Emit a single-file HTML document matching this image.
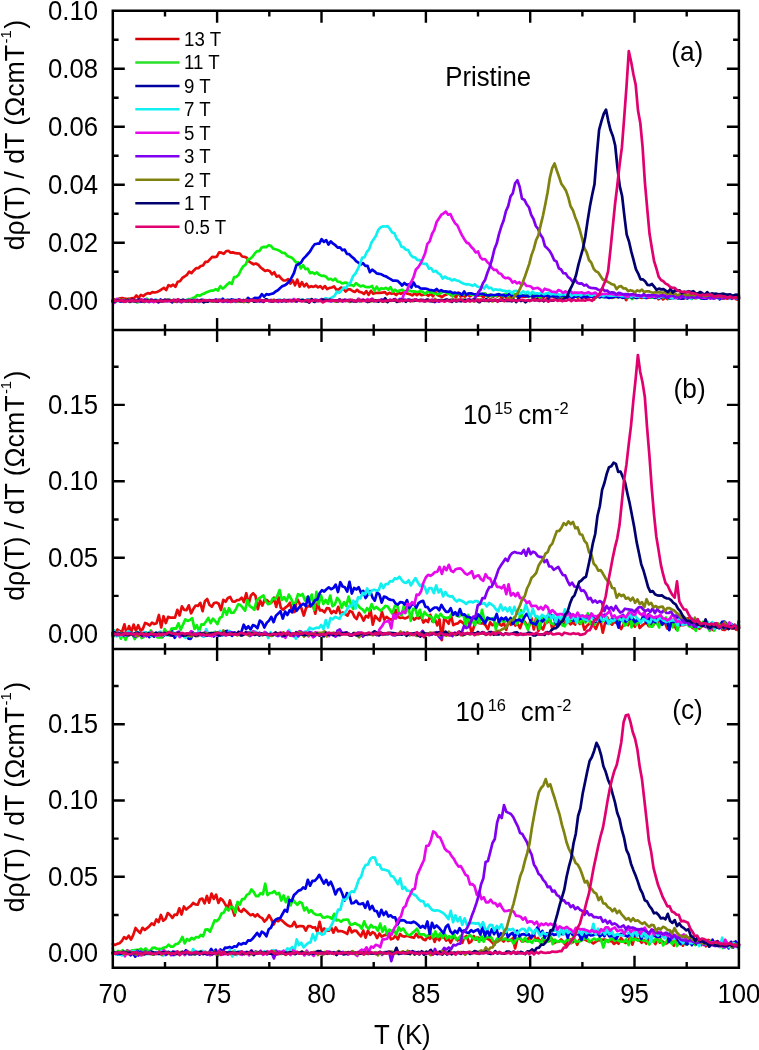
<!DOCTYPE html>
<html><head><meta charset="utf-8"><title>d&#961;/dT vs T</title>
<style>
html,body{margin:0;padding:0;background:#fff;}
body{width:759px;height:1050px;overflow:hidden;}
svg{display:block;font-family:"Liberation Sans",sans-serif;will-change:transform;}
</style></head><body>
<svg width="759" height="1050" viewBox="0 0 759 1050">
<rect width="759" height="1050" fill="#fff"/>

<g fill="none" stroke-width="2.70" stroke-linejoin="round" stroke-linecap="round">
<path stroke="#e60a0a" d="M112.8 301.8L113.3 298.9L115.6 299.9L117.9 299.0L120.2 298.4L122.5 298.1L124.8 298.7L127.1 299.1L129.4 298.7L131.7 298.2L134.0 298.4L136.3 295.5L138.6 297.8L140.9 294.9L143.2 296.1L145.5 294.2L147.8 293.1L150.1 293.7L152.4 292.1L154.7 292.5L157.0 292.0L159.3 290.9L161.6 289.3L163.9 287.8L166.2 290.0L168.5 285.1L170.8 286.3L173.1 284.6L175.4 286.9L177.7 281.7L180.0 281.2L182.3 277.9L184.6 276.5L186.9 274.9L189.2 271.6L191.5 273.1L193.8 270.4L196.1 268.2L198.4 268.2L200.7 266.0L203.0 265.5L205.3 261.9L207.6 261.8L209.9 259.3L212.2 256.8L214.5 257.1L216.8 256.6L219.1 252.4L221.4 252.7L223.7 253.8L226.0 251.3L228.3 250.8L230.6 252.6L232.9 252.3L235.2 253.2L237.5 253.3L239.8 253.5L242.1 256.5L244.4 256.8L246.7 257.8L249.0 261.4L251.3 263.0L253.6 264.3L255.9 263.5L258.2 264.7L260.5 267.4L262.8 269.1L265.1 271.0L267.4 270.2L269.7 271.0L272.0 274.3L274.3 272.3L276.6 276.7L278.9 275.6L281.2 278.5L283.5 280.5L285.8 280.4L288.1 279.2L290.4 283.6L292.7 280.3L295.0 285.3L297.3 279.6L299.6 286.7L301.9 282.1L304.2 286.3L306.5 283.7L308.8 287.4L311.1 286.2L313.4 286.9L315.7 285.7L318.0 287.4L320.3 286.2L322.6 288.7L324.9 286.1L327.2 289.1L329.5 287.9L331.8 287.5L334.1 286.4L336.4 289.7L338.7 289.5L341.0 287.5L343.3 288.5L345.6 291.5L347.9 289.4L350.2 289.4L352.5 291.0L354.8 292.0L357.1 289.8L359.4 291.9L361.7 292.3L364.0 294.0L366.3 291.1L368.6 294.9L370.9 290.8L373.2 293.8L375.5 293.0L377.8 292.9L380.1 292.8L382.4 292.7L384.7 292.0L387.0 294.4L389.3 292.8L391.6 293.8L393.9 293.3L396.2 295.0L398.5 292.8L400.8 293.8L403.1 292.5L405.4 293.2L407.7 293.6L410.0 294.3L412.3 295.4L414.6 293.3L416.9 295.1L419.2 293.2L421.5 295.2L423.8 294.7L426.1 294.2L428.4 295.8L430.7 293.8L433.0 296.3L435.3 291.7L437.6 295.3L439.9 295.9L442.2 296.9L444.5 295.2L446.8 294.4L449.1 293.3L451.4 295.4L453.7 294.6L456.0 297.5L458.3 292.7L460.6 296.6L462.9 295.6L465.2 296.7L467.5 294.1L469.8 296.4L472.1 294.9L474.4 294.9L476.7 296.0L479.0 295.4L481.3 295.3L483.6 297.6L485.9 294.0L488.2 296.8L490.5 294.7L492.8 296.9L495.1 295.3L497.4 296.5L499.7 294.7L502.0 298.3L504.3 295.3L506.6 298.1L508.9 296.0L511.2 296.8L513.5 296.2L515.8 295.2L518.1 297.6L520.4 296.7L522.7 296.4L525.0 296.9L527.3 296.5L529.6 295.0L531.9 296.7L534.2 298.1L536.5 294.0L538.8 298.8L541.1 295.4L543.4 297.9L545.7 294.2L548.0 298.0L550.3 296.5L552.6 296.9L554.9 297.2L557.2 297.1L559.5 295.9L561.8 298.7L564.1 294.0L566.4 296.4L568.7 295.1L571.0 297.4L573.3 297.0L575.6 296.2L577.9 297.7L580.2 296.6L582.5 297.8L584.8 297.1L587.1 297.5L589.4 297.3L591.7 295.4L594.0 299.5L596.3 295.1L598.6 296.9L600.9 296.7L603.2 295.8L605.5 296.4L607.8 296.5L610.1 297.2L612.4 297.9L614.7 296.8L617.0 296.8L619.3 296.1L621.6 297.4L623.9 295.7L626.2 300.1L628.5 295.2L630.8 296.7L633.1 296.0L635.4 297.8L637.7 296.7L640.0 297.7L642.3 297.8L644.6 297.1L646.9 297.9L649.2 297.6L651.5 295.7L653.8 297.8L656.1 296.7L658.4 299.2L660.7 296.4L663.0 299.4L665.3 297.5L667.6 299.1L669.9 298.1L672.2 297.6L674.5 296.9L676.8 297.3L679.1 297.1L681.4 298.6L683.7 298.7L686.0 296.8L688.3 297.3L690.6 297.9L692.9 296.2L695.2 298.1L697.5 296.7L699.8 297.5L702.1 298.2L704.4 297.1L706.7 298.6L709.0 296.4L711.3 297.3L713.6 298.2L715.9 296.9L718.2 298.1L720.5 296.8L722.8 298.6L725.1 297.9L727.4 298.6L729.7 297.1L732.0 298.8L734.3 297.0L736.6 299.5L738.9 298.7"/>
<path stroke="#0af00a" d="M112.8 301.2L114.5 300.0L116.8 301.2L119.1 299.5L121.4 301.0L123.7 300.8L126.0 300.6L128.3 299.6L130.6 301.8L132.9 300.6L135.2 301.4L137.5 302.4L139.8 300.3L142.1 301.6L144.4 301.9L146.7 298.7L149.0 300.4L151.3 299.8L153.6 301.7L155.9 300.1L158.2 301.8L160.5 300.3L162.8 301.2L165.1 300.7L167.4 299.9L169.7 300.2L172.0 300.9L174.3 300.9L176.6 300.8L178.9 300.5L181.2 300.3L183.5 300.2L185.8 300.8L188.1 299.1L190.4 299.3L192.7 298.1L195.0 297.3L197.3 295.0L199.6 295.8L201.9 294.3L204.2 293.6L206.5 292.3L208.8 291.4L211.1 290.5L213.4 290.6L215.7 289.2L218.0 290.5L220.3 286.1L222.6 288.6L224.9 287.0L227.2 284.4L229.5 282.4L231.8 284.0L234.1 277.1L236.4 276.8L238.7 274.7L241.0 269.7L243.3 266.3L245.6 264.7L247.9 259.4L250.2 258.7L252.5 256.7L254.8 253.4L257.1 251.1L259.4 251.1L261.7 247.5L264.0 246.9L266.3 247.1L268.6 245.2L270.9 245.9L273.2 248.6L275.5 249.2L277.8 250.0L280.1 251.1L282.4 253.0L284.7 252.9L287.0 255.7L289.3 256.8L291.6 257.6L293.9 259.8L296.2 262.5L298.5 262.3L300.8 268.4L303.1 265.1L305.4 269.1L307.7 268.7L310.0 273.2L312.3 272.4L314.6 273.8L316.9 272.5L319.2 274.8L321.5 275.8L323.8 275.7L326.1 276.7L328.4 279.5L330.7 278.8L333.0 280.3L335.3 278.6L337.6 281.6L339.9 281.9L342.2 283.5L344.5 282.7L346.8 282.8L349.1 285.1L351.4 284.9L353.7 286.0L356.0 283.1L358.3 285.0L360.6 286.4L362.9 285.5L365.2 286.8L367.5 287.1L369.8 287.1L372.1 286.0L374.4 291.0L376.7 286.6L379.0 290.3L381.3 288.2L383.6 288.9L385.9 287.8L388.2 289.6L390.5 287.1L392.8 291.6L395.1 289.7L397.4 291.7L399.7 290.5L402.0 289.7L404.3 291.1L406.6 291.2L408.9 290.1L411.2 291.4L413.5 291.4L415.8 291.7L418.1 291.8L420.4 291.2L422.7 291.8L425.0 294.0L427.3 291.6L429.6 292.3L431.9 292.1L434.2 293.7L436.5 294.1L438.8 294.0L441.1 293.0L443.4 291.3L445.7 292.2L448.0 293.9L450.3 293.1L452.6 296.4L454.9 292.8L457.2 293.9L459.5 294.2L461.8 294.3L464.1 294.0L466.4 294.8L468.7 293.1L471.0 294.7L473.3 294.4L475.6 295.6L477.9 294.5L480.2 294.7L482.5 294.1L484.8 293.3L487.1 296.1L489.4 294.7L491.7 296.3L494.0 295.4L496.3 295.9L498.6 293.9L500.9 295.1L503.2 296.2L505.5 293.7L507.8 296.4L510.1 294.1L512.4 295.8L514.7 294.0L517.0 296.1L519.3 294.6L521.6 295.6L523.9 295.7L526.2 294.6L528.5 297.1L530.8 295.4L533.1 294.4L535.4 296.5L537.7 295.4L540.0 297.7L542.3 295.6L544.6 294.8L546.9 295.2L549.2 296.3L551.5 296.4L553.8 294.8L556.1 296.5L558.4 296.0L560.7 297.0L563.0 296.2L565.3 295.5L567.6 294.7L569.9 295.5L572.2 297.4L574.5 294.9L576.8 296.9L579.1 296.3L581.4 297.4L583.7 295.2L586.0 295.9L588.3 296.1L590.6 295.6L592.9 297.3L595.2 298.1L597.5 296.2L599.8 294.9L602.1 297.1L604.4 297.0L606.7 295.6L609.0 296.7L611.3 295.8L613.6 297.5L615.9 296.3L618.2 297.3L620.5 296.4L622.8 297.8L625.1 296.4L627.4 298.2L629.7 295.7L632.0 299.1L634.3 296.3L636.6 296.1L638.9 297.5L641.2 296.0L643.5 296.1L645.8 297.7L648.1 295.4L650.4 297.3L652.7 297.6L655.0 297.0L657.3 296.0L659.6 295.6L661.9 296.6L664.2 297.8L666.5 295.7L668.8 298.7L671.1 297.5L673.4 297.0L675.7 296.2L678.0 298.5L680.3 296.2L682.6 296.3L684.9 296.4L687.2 298.1L689.5 296.9L691.8 298.9L694.1 297.0L696.4 298.2L698.7 296.9L701.0 298.7L703.3 295.9L705.6 298.2L707.9 297.8L710.2 297.0L712.5 296.2L714.8 297.2L717.1 297.1L719.4 295.5L721.7 297.8L724.0 297.4L726.3 297.4L728.6 297.9L730.9 296.8L733.2 298.0L735.5 297.2L737.8 297.5L738.9 297.0"/>
<path stroke="#0000e6" d="M112.8 301.3L114.6 300.2L116.9 300.7L119.2 301.0L121.5 300.9L123.8 300.5L126.1 301.2L128.4 300.1L130.7 301.4L133.0 300.0L135.3 301.6L137.6 301.1L139.9 299.7L142.2 301.2L144.5 301.8L146.8 299.9L149.1 301.8L151.4 299.4L153.7 301.5L156.0 300.0L158.3 302.1L160.6 299.5L162.9 301.4L165.2 300.3L167.5 300.0L169.8 300.0L172.1 302.4L174.4 300.5L176.7 300.4L179.0 300.6L181.3 301.0L183.6 300.0L185.9 300.5L188.2 300.2L190.5 301.5L192.8 300.6L195.1 300.4L197.4 299.9L199.7 301.4L202.0 300.0L204.3 300.2L206.6 301.3L208.9 300.1L211.2 300.4L213.5 300.9L215.8 300.1L218.1 300.0L220.4 300.6L222.7 298.7L225.0 300.9L227.3 299.9L229.6 300.2L231.9 299.4L234.2 300.1L236.5 301.7L238.8 299.5L241.1 300.7L243.4 300.0L245.7 300.8L248.0 297.9L250.3 299.7L252.6 299.4L254.9 297.8L257.2 298.0L259.5 297.7L261.8 294.2L264.1 296.7L266.4 294.2L268.7 294.6L271.0 294.0L273.3 293.4L275.6 291.5L277.9 290.3L280.2 288.1L282.5 286.1L284.8 285.3L287.1 283.6L289.4 281.1L291.7 277.4L294.0 273.0L296.3 265.4L298.6 264.0L300.9 262.9L303.2 258.9L305.5 256.6L307.8 254.0L310.1 251.3L312.4 247.3L314.7 244.3L317.0 243.7L319.3 243.7L321.6 239.1L323.9 241.9L326.2 240.1L328.5 244.5L330.8 241.4L333.1 243.7L335.4 245.2L337.7 247.6L340.0 247.4L342.3 250.2L344.6 249.5L346.9 253.8L349.2 254.2L351.5 256.6L353.8 258.3L356.1 261.2L358.4 262.7L360.7 264.5L363.0 263.2L365.3 265.8L367.6 265.9L369.9 272.2L372.2 269.7L374.5 271.3L376.8 273.4L379.1 273.8L381.4 274.3L383.7 275.7L386.0 276.4L388.3 277.9L390.6 279.1L392.9 280.6L395.2 280.7L397.5 280.8L399.8 282.9L402.1 285.5L404.4 283.0L406.7 284.9L409.0 284.2L411.3 287.6L413.6 282.4L415.9 286.5L418.2 286.5L420.5 288.5L422.8 288.7L425.1 288.5L427.4 289.0L429.7 290.1L432.0 290.2L434.3 290.7L436.6 289.0L438.9 291.4L441.2 290.1L443.5 291.5L445.8 291.4L448.1 291.8L450.4 291.6L452.7 293.1L455.0 292.7L457.3 293.2L459.6 293.1L461.9 295.0L464.2 291.4L466.5 294.9L468.8 293.4L471.1 293.4L473.4 294.0L475.7 294.3L478.0 294.7L480.3 293.8L482.6 293.9L484.9 294.7L487.2 295.3L489.5 295.4L491.8 294.8L494.1 295.3L496.4 294.7L498.7 294.3L501.0 295.2L503.3 294.8L505.6 296.1L507.9 294.9L510.2 293.5L512.5 296.8L514.8 295.9L517.1 295.4L519.4 296.7L521.7 295.4L524.0 295.8L526.3 295.9L528.6 296.4L530.9 295.1L533.2 296.6L535.5 295.8L537.8 295.7L540.1 295.4L542.4 296.0L544.7 296.1L547.0 295.5L549.3 296.8L551.6 295.5L553.9 296.5L556.2 296.5L558.5 296.5L560.8 296.2L563.1 295.5L565.4 296.1L567.7 297.6L570.0 294.1L572.3 298.7L574.6 296.6L576.9 296.7L579.2 295.1L581.5 297.7L583.8 295.7L586.1 297.7L588.4 296.1L590.7 296.7L593.0 296.5L595.3 296.8L597.6 295.8L599.9 297.4L602.2 296.1L604.5 297.2L606.8 297.1L609.1 297.9L611.4 297.1L613.7 297.1L616.0 296.1L618.3 297.3L620.6 296.7L622.9 297.8L625.2 297.1L627.5 296.8L629.8 297.0L632.1 297.5L634.4 296.7L636.7 298.0L639.0 296.5L641.3 296.3L643.6 297.4L645.9 297.8L648.2 296.2L650.5 297.2L652.8 296.3L655.1 297.9L657.4 296.2L659.7 298.4L662.0 296.0L664.3 297.1L666.6 296.5L668.9 297.9L671.2 298.1L673.5 298.1L675.8 297.6L678.1 298.2L680.4 298.4L682.7 298.4L685.0 297.8L687.3 298.4L689.6 297.4L691.9 298.0L694.2 297.3L696.5 297.5L698.8 296.5L701.1 298.2L703.4 298.6L705.7 298.7L708.0 297.7L710.3 298.3L712.6 298.0L714.9 298.1L717.2 296.3L719.5 299.3L721.8 297.6L724.1 297.9L726.4 297.4L728.7 297.8L731.0 298.4L733.3 297.7L735.6 297.4L737.9 299.3L738.9 298.2"/>
<path stroke="#10f0f0" d="M112.8 300.6L113.8 300.6L116.1 301.6L118.4 299.8L120.7 301.2L123.0 299.9L125.3 301.7L127.6 300.8L129.9 300.9L132.2 300.6L134.5 301.3L136.8 300.4L139.1 301.4L141.4 300.0L143.7 300.5L146.0 299.4L148.3 301.9L150.6 300.6L152.9 301.5L155.2 299.4L157.5 301.1L159.8 301.1L162.1 301.3L164.4 300.5L166.7 300.3L169.0 300.3L171.3 301.7L173.6 299.7L175.9 301.5L178.2 299.9L180.5 302.0L182.8 301.3L185.1 301.0L187.4 299.6L189.7 301.8L192.0 299.7L194.3 300.8L196.6 300.0L198.9 302.3L201.2 299.9L203.5 300.9L205.8 299.9L208.1 301.0L210.4 300.4L212.7 300.1L215.0 300.2L217.3 300.9L219.6 299.6L221.9 300.3L224.2 301.1L226.5 299.9L228.8 301.5L231.1 300.5L233.4 299.8L235.7 302.0L238.0 299.9L240.3 300.7L242.6 300.7L244.9 300.3L247.2 301.4L249.5 300.7L251.8 300.0L254.1 301.6L256.4 300.9L258.7 300.9L261.0 300.8L263.3 301.1L265.6 300.1L267.9 299.7L270.2 301.3L272.5 300.4L274.8 300.4L277.1 300.8L279.4 299.4L281.7 301.1L284.0 299.7L286.3 300.8L288.6 300.3L290.9 300.3L293.2 299.6L295.5 300.5L297.8 300.2L300.1 300.2L302.4 299.6L304.7 301.6L307.0 299.4L309.3 299.7L311.6 299.7L313.9 301.8L316.2 299.4L318.5 300.7L320.8 299.4L323.1 300.8L325.4 298.1L327.7 299.1L330.0 298.6L332.3 297.3L334.6 295.9L336.9 291.6L339.2 292.8L341.5 290.4L343.8 287.5L346.1 288.1L348.4 284.3L350.7 282.2L353.0 276.2L355.3 273.8L357.6 269.5L359.9 264.7L362.2 257.6L364.5 257.3L366.8 252.0L369.1 249.4L371.4 242.8L373.7 239.3L376.0 235.8L378.3 229.8L380.6 227.3L382.9 226.4L385.2 226.5L387.5 226.2L389.8 228.7L392.1 232.4L394.4 233.3L396.7 238.8L399.0 240.9L401.3 246.6L403.6 247.3L405.9 249.7L408.2 250.1L410.5 254.6L412.8 257.2L415.1 257.4L417.4 260.1L419.7 259.9L422.0 263.3L424.3 263.9L426.6 263.8L428.9 268.6L431.2 268.2L433.5 271.7L435.8 270.8L438.1 273.2L440.4 274.6L442.7 278.5L445.0 276.6L447.3 278.3L449.6 278.6L451.9 280.5L454.2 279.3L456.5 280.5L458.8 280.9L461.1 282.5L463.4 283.5L465.7 284.3L468.0 284.2L470.3 284.7L472.6 285.8L474.9 284.5L477.2 286.5L479.5 287.2L481.8 286.7L484.1 288.5L486.4 285.3L488.7 288.2L491.0 287.7L493.3 290.3L495.6 289.3L497.9 290.0L500.2 289.7L502.5 290.7L504.8 290.8L507.1 291.6L509.4 290.8L511.7 293.4L514.0 291.0L516.3 290.8L518.6 292.4L520.9 293.5L523.2 291.3L525.5 293.1L527.8 291.6L530.1 294.6L532.4 291.7L534.7 293.4L537.0 293.3L539.3 293.8L541.6 292.4L543.9 294.2L546.2 293.6L548.5 292.7L550.8 294.4L553.1 293.8L555.4 294.1L557.7 293.9L560.0 295.2L562.3 294.2L564.6 294.3L566.9 295.3L569.2 293.0L571.5 296.0L573.8 294.1L576.1 295.2L578.4 294.4L580.7 295.5L583.0 294.0L585.3 294.3L587.6 293.7L589.9 295.3L592.2 295.6L594.5 294.2L596.8 295.4L599.1 296.1L601.4 295.1L603.7 296.2L606.0 294.5L608.3 295.5L610.6 295.7L612.9 295.6L615.2 295.5L617.5 295.3L619.8 295.6L622.1 296.1L624.4 296.2L626.7 296.5L629.0 296.0L631.3 296.7L633.6 295.6L635.9 296.7L638.2 296.6L640.5 296.2L642.8 297.1L645.1 297.0L647.4 296.4L649.7 296.9L652.0 295.1L654.3 296.7L656.6 296.3L658.9 297.8L661.2 296.1L663.5 296.2L665.8 296.0L668.1 296.6L670.4 297.5L672.7 298.2L675.0 295.3L677.3 297.3L679.6 296.0L681.9 295.4L684.2 296.9L686.5 297.4L688.8 295.5L691.1 298.7L693.4 296.2L695.7 297.0L698.0 297.9L700.3 296.7L702.6 296.7L704.9 297.3L707.2 296.1L709.5 298.0L711.8 296.4L714.1 297.6L716.4 295.6L718.7 298.4L721.0 297.3L723.3 297.9L725.6 296.7L727.9 297.2L730.2 298.5L732.5 296.7L734.8 297.4L737.1 298.8L738.9 297.1"/>
<path stroke="#e60aeb" d="M112.8 300.1L114.6 302.9L116.9 298.9L119.2 300.6L121.5 300.6L123.8 301.8L126.1 300.8L128.4 300.5L130.7 300.2L133.0 301.2L135.3 300.4L137.6 300.9L139.9 300.3L142.2 299.7L144.5 301.7L146.8 299.7L149.1 302.0L151.4 299.3L153.7 302.1L156.0 300.3L158.3 300.5L160.6 300.5L162.9 301.1L165.2 299.7L167.5 301.3L169.8 300.7L172.1 301.1L174.4 299.9L176.7 301.4L179.0 300.5L181.3 301.8L183.6 300.5L185.9 301.6L188.2 300.3L190.5 300.1L192.8 301.0L195.1 300.4L197.4 301.3L199.7 301.2L202.0 300.5L204.3 300.4L206.6 301.5L208.9 300.5L211.2 300.6L213.5 300.5L215.8 299.8L218.1 301.5L220.4 299.9L222.7 301.0L225.0 301.1L227.3 300.7L229.6 300.6L231.9 300.7L234.2 300.7L236.5 301.1L238.8 300.6L241.1 301.6L243.4 300.0L245.7 300.6L248.0 300.7L250.3 300.4L252.6 300.0L254.9 300.5L257.2 300.6L259.5 300.8L261.8 300.4L264.1 301.6L266.4 299.4L268.7 300.8L271.0 299.9L273.3 300.6L275.6 300.4L277.9 300.0L280.2 300.6L282.5 300.7L284.8 300.1L287.1 300.2L289.4 300.5L291.7 301.2L294.0 299.0L296.3 301.6L298.6 299.7L300.9 300.9L303.2 300.2L305.5 301.3L307.8 300.3L310.1 301.1L312.4 299.6L314.7 302.0L317.0 300.0L319.3 300.6L321.6 299.0L323.9 300.6L326.2 299.7L328.5 300.4L330.8 300.2L333.1 300.0L335.4 301.1L337.7 300.6L340.0 299.8L342.3 301.0L344.6 300.0L346.9 300.6L349.2 299.9L351.5 300.5L353.8 300.4L356.1 301.5L358.4 298.6L360.7 300.4L363.0 299.4L365.3 300.8L367.6 299.2L369.9 300.6L372.2 298.6L374.5 300.7L376.8 300.7L379.1 300.1L381.4 300.6L383.7 299.8L386.0 300.8L388.3 300.5L390.6 299.9L392.9 300.3L395.2 298.9L397.5 301.2L399.8 299.4L402.1 299.5L404.4 292.7L406.7 291.2L409.0 285.6L411.3 282.1L413.6 277.0L415.9 269.5L418.2 267.2L420.5 263.8L422.8 258.8L425.1 253.4L427.4 243.8L429.7 241.3L432.0 234.0L434.3 229.8L436.6 222.0L438.9 218.5L441.2 214.9L443.5 213.3L445.8 211.6L448.1 214.7L450.4 214.1L452.7 219.2L455.0 223.2L457.3 225.2L459.6 230.3L461.9 235.1L464.2 239.0L466.5 242.6L468.8 243.4L471.1 246.7L473.4 249.0L475.7 252.4L478.0 251.4L480.3 257.3L482.6 259.4L484.9 259.0L487.2 261.9L489.5 264.0L491.8 267.8L494.1 269.9L496.4 269.8L498.7 273.2L501.0 273.7L503.3 276.9L505.6 278.2L507.9 277.7L510.2 279.0L512.5 282.6L514.8 281.2L517.1 283.4L519.4 282.2L521.7 285.3L524.0 282.7L526.3 285.8L528.6 286.0L530.9 286.5L533.2 288.8L535.5 288.3L537.8 287.8L540.1 289.4L542.4 291.8L544.7 288.7L547.0 289.7L549.3 290.0L551.6 291.7L553.9 291.8L556.2 292.5L558.5 290.0L560.8 291.0L563.1 292.8L565.4 291.4L567.7 293.0L570.0 290.3L572.3 293.1L574.6 292.5L576.9 292.6L579.2 292.8L581.5 292.3L583.8 293.5L586.1 293.0L588.4 292.2L590.7 293.6L593.0 293.5L595.3 292.5L597.6 294.9L599.9 294.9L602.2 294.0L604.5 294.0L606.8 293.8L609.1 294.0L611.4 293.7L613.7 294.4L616.0 294.7L618.3 295.2L620.6 294.6L622.9 294.5L625.2 295.7L627.5 297.1L629.8 294.9L632.1 295.2L634.4 295.1L636.7 295.8L639.0 295.9L641.3 296.7L643.6 295.2L645.9 296.0L648.2 296.8L650.5 296.7L652.8 295.7L655.1 296.8L657.4 295.4L659.7 296.6L662.0 295.1L664.3 295.3L666.6 295.8L668.9 296.6L671.2 296.2L673.5 295.5L675.8 297.7L678.1 295.4L680.4 297.5L682.7 296.3L685.0 296.4L687.3 297.5L689.6 297.0L691.9 297.2L694.2 296.6L696.5 297.8L698.8 296.3L701.1 297.6L703.4 297.4L705.7 297.9L708.0 296.6L710.3 298.4L712.6 295.7L714.9 298.3L717.2 296.3L719.5 296.1L721.8 297.6L724.1 297.7L726.4 296.3L728.7 298.0L731.0 296.6L733.3 296.6L735.6 298.3L737.9 297.6L738.9 296.9"/>
<path stroke="#7f00f0" d="M112.8 301.4L114.9 300.7L117.2 300.3L119.5 301.0L121.8 300.5L124.1 301.7L126.4 300.3L128.7 300.4L131.0 301.0L133.3 301.0L135.6 300.5L137.9 299.8L140.2 301.8L142.5 301.2L144.8 299.4L147.1 301.3L149.4 300.9L151.7 301.1L154.0 300.3L156.3 300.3L158.6 302.4L160.9 300.0L163.2 301.0L165.5 301.2L167.8 301.0L170.1 300.5L172.4 300.8L174.7 301.5L177.0 302.0L179.3 299.9L181.6 302.2L183.9 300.3L186.2 301.3L188.5 300.1L190.8 301.3L193.1 299.9L195.4 301.4L197.7 300.6L200.0 301.0L202.3 299.8L204.6 302.0L206.9 300.9L209.2 300.5L211.5 300.4L213.8 301.3L216.1 299.4L218.4 301.5L220.7 300.5L223.0 301.8L225.3 300.1L227.6 301.8L229.9 301.1L232.2 300.3L234.5 300.9L236.8 301.6L239.1 299.3L241.4 301.3L243.7 300.9L246.0 300.6L248.3 300.5L250.6 300.7L252.9 300.5L255.2 300.3L257.5 300.0L259.8 301.7L262.1 300.3L264.4 301.0L266.7 299.6L269.0 301.2L271.3 300.8L273.6 300.4L275.9 300.5L278.2 301.9L280.5 300.0L282.8 301.1L285.1 301.2L287.4 300.6L289.7 300.0L292.0 301.1L294.3 300.3L296.6 301.7L298.9 299.8L301.2 300.7L303.5 300.1L305.8 301.4L308.1 299.8L310.4 300.4L312.7 300.6L315.0 299.7L317.3 300.8L319.6 300.6L321.9 299.7L324.2 301.3L326.5 300.1L328.8 300.9L331.1 301.5L333.4 300.7L335.7 300.3L338.0 301.6L340.3 300.0L342.6 301.6L344.9 299.6L347.2 300.6L349.5 301.3L351.8 300.3L354.1 301.1L356.4 301.4L358.7 299.9L361.0 300.5L363.3 300.3L365.6 300.6L367.9 302.1L370.2 300.1L372.5 300.1L374.8 300.9L377.1 300.8L379.4 300.9L381.7 299.4L384.0 300.8L386.3 300.5L388.6 301.0L390.9 300.3L393.2 300.6L395.5 300.1L397.8 300.7L400.1 298.9L402.4 301.0L404.7 299.6L407.0 300.2L409.3 299.6L411.6 300.3L413.9 300.9L416.2 299.3L418.5 300.7L420.8 299.9L423.1 299.9L425.4 301.3L427.7 299.5L430.0 301.0L432.3 299.6L434.6 302.1L436.9 300.4L439.2 301.7L441.5 299.9L443.8 301.1L446.1 300.0L448.4 300.3L450.7 300.2L453.0 299.5L455.3 300.4L457.6 300.2L459.9 299.9L462.2 300.4L464.5 301.1L466.8 301.1L469.1 299.0L471.4 300.6L473.7 299.8L476.0 296.2L478.3 292.2L480.6 289.5L482.9 283.3L485.2 279.7L487.5 272.5L489.8 266.7L492.1 259.0L494.4 249.2L496.7 243.6L499.0 234.1L501.3 226.6L503.6 220.6L505.9 211.2L508.2 206.1L510.5 196.6L512.8 193.2L515.1 183.3L517.4 180.3L519.7 187.0L522.0 198.8L524.3 199.7L526.6 204.2L528.9 207.2L531.2 214.8L533.5 219.0L535.8 226.0L538.1 228.9L540.4 234.6L542.7 237.9L545.0 246.3L547.3 248.3L549.6 250.8L551.9 254.9L554.2 260.3L556.5 261.4L558.8 268.2L561.1 269.5L563.4 273.2L565.7 273.4L568.0 277.1L570.3 278.7L572.6 281.7L574.9 279.1L577.2 282.8L579.5 283.6L581.8 283.4L584.1 285.6L586.4 284.7L588.7 287.2L591.0 287.9L593.3 288.1L595.6 288.3L597.9 289.5L600.2 290.4L602.5 288.7L604.8 290.9L607.1 290.5L609.4 292.8L611.7 292.3L614.0 292.7L616.3 294.4L618.6 292.9L620.9 293.4L623.2 294.3L625.5 294.2L627.8 294.4L630.1 294.7L632.4 294.0L634.7 294.0L637.0 295.5L639.3 295.2L641.6 296.0L643.9 293.9L646.2 295.9L648.5 295.1L650.8 295.5L653.1 294.8L655.4 295.3L657.7 296.6L660.0 295.7L662.3 295.3L664.6 295.8L666.9 297.4L669.2 296.2L671.5 294.6L673.8 296.2L676.1 296.8L678.4 297.3L680.7 295.5L683.0 297.2L685.3 295.1L687.6 297.3L689.9 297.2L692.2 297.1L694.5 297.5L696.8 297.0L699.1 297.4L701.4 297.4L703.7 296.2L706.0 296.6L708.3 297.3L710.6 296.9L712.9 297.6L715.2 297.2L717.5 297.7L719.8 298.2L722.1 296.5L724.4 298.0L726.7 297.4L729.0 297.5L731.3 298.0L733.6 297.6L735.9 298.1L738.2 297.8L738.9 297.8"/>
<path stroke="#80820f" d="M112.8 301.2L112.9 299.8L115.2 301.5L117.5 300.2L119.8 300.4L122.1 300.6L124.4 301.2L126.7 300.8L129.0 300.6L131.3 300.8L133.6 301.0L135.9 300.6L138.2 301.0L140.5 300.3L142.8 301.2L145.1 300.8L147.4 300.6L149.7 300.7L152.0 300.4L154.3 300.5L156.6 301.2L158.9 300.8L161.2 300.6L163.5 301.4L165.8 300.1L168.1 300.2L170.4 300.1L172.7 300.6L175.0 301.7L177.3 300.6L179.6 301.0L181.9 300.8L184.2 300.9L186.5 301.0L188.8 301.8L191.1 300.7L193.4 301.1L195.7 300.1L198.0 301.6L200.3 300.0L202.6 301.1L204.9 300.7L207.2 301.5L209.5 300.4L211.8 301.5L214.1 300.9L216.4 301.6L218.7 299.8L221.0 300.9L223.3 300.6L225.6 301.1L227.9 300.0L230.2 301.2L232.5 301.5L234.8 300.4L237.1 301.2L239.4 301.6L241.7 300.8L244.0 302.1L246.3 299.6L248.6 302.1L250.9 300.1L253.2 301.0L255.5 300.7L257.8 300.9L260.1 299.8L262.4 301.3L264.7 300.3L267.0 300.4L269.3 300.7L271.6 301.0L273.9 299.7L276.2 301.2L278.5 300.4L280.8 300.4L283.1 300.7L285.4 301.0L287.7 300.5L290.0 300.9L292.3 300.4L294.6 301.3L296.9 300.2L299.2 300.3L301.5 300.1L303.8 300.4L306.1 301.4L308.4 300.5L310.7 299.9L313.0 300.9L315.3 300.5L317.6 300.7L319.9 300.8L322.2 300.5L324.5 301.1L326.8 300.1L329.1 300.4L331.4 300.7L333.7 301.0L336.0 301.8L338.3 300.7L340.6 301.2L342.9 299.9L345.2 301.1L347.5 300.2L349.8 301.9L352.1 299.8L354.4 301.0L356.7 301.2L359.0 299.6L361.3 301.2L363.6 300.2L365.9 300.6L368.2 301.3L370.5 301.3L372.8 300.9L375.1 300.2L377.4 301.3L379.7 300.6L382.0 300.9L384.3 301.1L386.6 301.4L388.9 300.4L391.2 300.8L393.5 300.1L395.8 300.4L398.1 300.3L400.4 301.3L402.7 300.1L405.0 301.1L407.3 299.9L409.6 300.9L411.9 300.7L414.2 300.8L416.5 300.4L418.8 300.2L421.1 299.9L423.4 300.7L425.7 301.2L428.0 299.7L430.3 300.2L432.6 301.6L434.9 298.9L437.2 300.7L439.5 300.0L441.8 300.2L444.1 300.4L446.4 299.7L448.7 300.9L451.0 299.6L453.3 299.8L455.6 301.0L457.9 299.5L460.2 300.7L462.5 299.7L464.8 299.5L467.1 300.4L469.4 301.2L471.7 300.3L474.0 301.5L476.3 300.1L478.6 299.6L480.9 299.7L483.2 300.5L485.5 300.8L487.8 301.0L490.1 298.9L492.4 301.5L494.7 300.5L497.0 300.8L499.3 299.6L501.6 300.4L503.9 300.6L506.2 300.9L508.5 298.5L510.8 299.7L513.1 298.0L515.4 295.1L517.7 293.2L520.0 288.9L522.3 283.2L524.6 277.6L526.9 270.8L529.2 264.1L531.5 255.1L533.8 248.9L536.1 240.2L538.4 235.4L540.7 224.9L543.0 215.6L545.3 204.2L547.6 192.3L549.9 177.5L552.2 168.1L554.5 163.5L556.8 170.5L559.1 177.0L561.4 183.9L563.7 187.0L566.0 190.8L568.3 197.4L570.6 206.3L572.9 210.2L575.2 217.2L577.5 222.8L579.8 230.2L582.1 238.5L584.4 248.2L586.7 252.5L589.0 260.0L591.3 262.7L593.6 268.6L595.9 271.3L598.2 272.4L600.5 276.0L602.8 279.6L605.1 279.9L607.4 281.6L609.7 282.9L612.0 284.3L614.3 284.9L616.6 289.2L618.9 286.6L621.2 286.2L623.5 288.5L625.8 288.4L628.1 291.2L630.4 290.2L632.7 290.9L635.0 292.3L637.3 290.4L639.6 291.3L641.9 289.7L644.2 292.0L646.5 291.3L648.8 291.3L651.1 292.2L653.4 292.8L655.7 292.1L658.0 292.3L660.3 292.2L662.6 292.8L664.9 292.2L667.2 293.8L669.5 293.1L671.8 293.9L674.1 292.6L676.4 294.8L678.7 295.0L681.0 293.0L683.3 293.2L685.6 295.2L687.9 294.7L690.2 295.1L692.5 294.5L694.8 295.4L697.1 293.9L699.4 294.7L701.7 294.4L704.0 296.2L706.3 295.8L708.6 295.5L710.9 294.8L713.2 295.5L715.5 296.0L717.8 296.4L720.1 296.0L722.4 296.5L724.7 295.9L727.0 296.1L729.3 297.4L731.6 296.1L733.9 297.7L736.2 297.1L738.5 296.9L738.9 297.0"/>
<path stroke="#00006e" d="M112.8 301.1L113.8 301.8L116.1 300.8L118.4 300.0L120.7 301.5L123.0 300.4L125.3 301.5L127.6 299.7L129.9 301.9L132.2 299.5L134.5 301.2L136.8 300.9L139.1 299.7L141.4 301.2L143.7 301.1L146.0 300.3L148.3 300.9L150.6 300.7L152.9 300.4L155.2 300.6L157.5 301.6L159.8 301.1L162.1 301.1L164.4 299.9L166.7 300.4L169.0 300.0L171.3 301.6L173.6 300.6L175.9 300.1L178.2 300.6L180.5 300.7L182.8 299.9L185.1 300.6L187.4 301.1L189.7 300.4L192.0 300.5L194.3 301.4L196.6 300.5L198.9 300.6L201.2 300.0L203.5 302.3L205.8 301.1L208.1 301.6L210.4 300.6L212.7 300.9L215.0 300.9L217.3 301.5L219.6 300.2L221.9 300.7L224.2 300.9L226.5 300.4L228.8 300.3L231.1 301.4L233.4 301.0L235.7 300.1L238.0 300.3L240.3 301.0L242.6 300.9L244.9 300.5L247.2 301.5L249.5 300.8L251.8 299.9L254.1 301.6L256.4 301.2L258.7 300.6L261.0 300.3L263.3 301.9L265.6 299.3L267.9 300.6L270.2 300.9L272.5 301.6L274.8 300.9L277.1 300.3L279.4 300.4L281.7 301.4L284.0 300.0L286.3 301.4L288.6 300.1L290.9 300.9L293.2 300.3L295.5 300.8L297.8 300.0L300.1 300.6L302.4 300.0L304.7 300.7L307.0 301.0L309.3 302.5L311.6 299.2L313.9 301.6L316.2 301.0L318.5 300.9L320.8 300.3L323.1 299.6L325.4 300.3L327.7 300.7L330.0 299.9L332.3 300.7L334.6 300.5L336.9 301.0L339.2 299.6L341.5 300.3L343.8 300.3L346.1 300.9L348.4 300.2L350.7 301.1L353.0 301.0L355.3 301.2L357.6 300.7L359.9 301.2L362.2 300.6L364.5 300.7L366.8 301.1L369.1 301.3L371.4 299.6L373.7 301.2L376.0 300.6L378.3 301.6L380.6 300.1L382.9 301.5L385.2 298.3L387.5 302.0L389.8 300.0L392.1 300.6L394.4 299.3L396.7 301.9L399.0 300.9L401.3 300.1L403.6 300.0L405.9 301.8L408.2 299.8L410.5 301.1L412.8 300.0L415.1 300.3L417.4 300.4L419.7 300.9L422.0 300.5L424.3 301.1L426.6 299.8L428.9 300.8L431.2 301.2L433.5 300.8L435.8 301.1L438.1 300.2L440.4 300.7L442.7 300.5L445.0 300.1L447.3 299.7L449.6 300.4L451.9 301.8L454.2 300.2L456.5 301.5L458.8 300.6L461.1 301.3L463.4 300.5L465.7 300.0L468.0 300.6L470.3 300.4L472.6 299.9L474.9 299.9L477.2 301.0L479.5 302.2L481.8 300.1L484.1 300.8L486.4 299.2L488.7 301.2L491.0 300.0L493.3 300.1L495.6 300.1L497.9 300.4L500.2 300.6L502.5 299.8L504.8 300.2L507.1 301.0L509.4 300.7L511.7 301.3L514.0 299.6L516.3 302.1L518.6 298.6L520.9 301.1L523.2 300.1L525.5 302.3L527.8 300.4L530.1 300.8L532.4 299.5L534.7 300.4L537.0 299.2L539.3 301.0L541.6 299.8L543.9 301.3L546.2 299.5L548.5 299.6L550.8 300.5L553.1 300.7L555.4 299.4L557.7 299.6L560.0 299.6L562.3 300.8L564.6 298.2L566.9 297.3L569.2 291.1L571.5 286.7L573.8 281.8L576.1 275.0L578.4 264.9L580.7 256.5L583.0 248.3L585.3 236.7L587.6 220.9L589.9 206.6L592.2 194.7L594.5 184.1L596.8 155.0L599.1 129.8L601.4 121.4L603.7 114.0L606.0 109.6L608.3 121.1L610.6 130.3L612.9 136.2L615.2 145.5L617.5 168.3L619.8 186.4L622.1 196.0L624.4 216.2L626.7 234.6L629.0 241.5L631.3 251.6L633.6 260.2L635.9 269.2L638.2 273.6L640.5 279.3L642.8 279.4L645.1 281.2L647.4 284.8L649.7 285.2L652.0 284.0L654.3 286.8L656.6 289.9L658.9 288.6L661.2 289.4L663.5 289.1L665.8 290.6L668.1 292.0L670.4 289.0L672.7 292.6L675.0 290.3L677.3 291.0L679.6 290.3L681.9 293.3L684.2 291.8L686.5 292.1L688.8 291.2L691.1 292.0L693.4 291.2L695.7 293.5L698.0 293.5L700.3 292.0L702.6 293.4L704.9 294.7L707.2 292.1L709.5 294.5L711.8 293.4L714.1 293.8L716.4 293.7L718.7 294.3L721.0 294.0L723.3 293.7L725.6 294.4L727.9 294.6L730.2 294.4L732.5 295.8L734.8 294.9L737.1 294.7L738.9 295.2"/>
<path stroke="#e0006f" d="M112.8 301.9L113.6 300.9L115.9 300.7L118.2 300.5L120.5 300.7L122.8 300.4L125.1 301.8L127.4 300.5L129.7 301.4L132.0 300.0L134.3 301.2L136.6 300.7L138.9 301.1L141.2 299.5L143.5 301.4L145.8 300.6L148.1 301.5L150.4 300.8L152.7 300.6L155.0 301.0L157.3 301.3L159.6 300.7L161.9 301.4L164.2 300.9L166.5 300.8L168.8 300.9L171.1 301.1L173.4 299.9L175.7 301.5L178.0 299.3L180.3 301.6L182.6 300.8L184.9 300.9L187.2 300.8L189.5 300.2L191.8 301.9L194.1 300.0L196.4 300.8L198.7 300.6L201.0 301.2L203.3 300.2L205.6 300.7L207.9 300.3L210.2 300.8L212.5 300.6L214.8 300.5L217.1 301.4L219.4 300.3L221.7 301.1L224.0 300.7L226.3 300.2L228.6 300.9L230.9 301.9L233.2 300.1L235.5 301.2L237.8 300.4L240.1 300.0L242.4 301.2L244.7 300.6L247.0 300.3L249.3 301.3L251.6 299.9L253.9 300.6L256.2 301.1L258.5 300.6L260.8 299.8L263.1 301.3L265.4 300.3L267.7 300.7L270.0 300.6L272.3 301.4L274.6 300.4L276.9 301.1L279.2 300.4L281.5 301.2L283.8 300.2L286.1 300.9L288.4 301.3L290.7 300.0L293.0 300.9L295.3 300.2L297.6 299.7L299.9 301.0L302.2 301.5L304.5 300.7L306.8 300.0L309.1 302.0L311.4 300.5L313.7 300.6L316.0 300.2L318.3 300.9L320.6 300.6L322.9 302.3L325.2 301.0L327.5 301.0L329.8 300.7L332.1 300.4L334.4 300.6L336.7 300.6L339.0 300.6L341.3 300.4L343.6 301.1L345.9 300.5L348.2 301.0L350.5 299.7L352.8 300.4L355.1 301.3L357.4 300.6L359.7 300.4L362.0 300.9L364.3 300.9L366.6 300.4L368.9 301.0L371.2 299.5L373.5 300.7L375.8 300.9L378.1 300.5L380.4 300.5L382.7 301.4L385.0 300.6L387.3 300.9L389.6 300.0L391.9 300.8L394.2 299.8L396.5 300.7L398.8 301.2L401.1 300.4L403.4 300.8L405.7 300.3L408.0 300.3L410.3 300.8L412.6 300.9L414.9 299.4L417.2 300.7L419.5 300.9L421.8 300.6L424.1 301.1L426.4 300.9L428.7 300.8L431.0 300.1L433.3 300.9L435.6 300.2L437.9 300.9L440.2 300.9L442.5 300.6L444.8 301.7L447.1 300.3L449.4 301.3L451.7 301.1L454.0 300.2L456.3 300.8L458.6 300.5L460.9 299.4L463.2 301.0L465.5 301.7L467.8 299.7L470.1 301.5L472.4 300.3L474.7 301.1L477.0 299.6L479.3 301.4L481.6 299.8L483.9 300.4L486.2 300.3L488.5 300.4L490.8 300.0L493.1 300.6L495.4 299.5L497.7 301.8L500.0 299.7L502.3 300.2L504.6 301.2L506.9 299.8L509.2 300.1L511.5 300.3L513.8 300.3L516.1 300.9L518.4 300.4L520.7 299.8L523.0 300.2L525.3 300.7L527.6 300.2L529.9 300.9L532.2 299.8L534.5 300.3L536.8 300.2L539.1 300.4L541.4 300.3L543.7 300.5L546.0 299.8L548.3 301.7L550.6 299.7L552.9 300.4L555.2 299.6L557.5 300.9L559.8 300.1L562.1 301.1L564.4 300.5L566.7 300.6L569.0 299.4L571.3 301.1L573.6 299.6L575.9 300.7L578.2 300.4L580.5 300.5L582.8 300.2L585.1 300.7L587.4 299.6L589.7 299.8L592.0 300.8L594.3 298.1L596.6 297.1L598.9 294.9L601.2 290.7L603.5 285.3L605.8 279.9L608.1 271.3L610.4 250.3L612.7 227.4L615.0 204.5L617.3 185.5L619.6 164.5L621.9 147.4L624.2 117.7L626.5 86.6L628.8 51.2L631.1 61.5L633.4 74.3L635.7 84.8L638.0 110.5L640.3 123.0L642.6 147.2L644.9 182.3L647.2 208.3L649.5 233.5L651.8 247.7L654.1 261.2L656.4 268.5L658.7 276.8L661.0 280.0L663.3 281.2L665.6 283.6L667.9 284.8L670.2 286.9L672.5 287.9L674.8 287.9L677.1 290.2L679.4 291.2L681.7 291.8L684.0 291.9L686.3 292.5L688.6 291.6L690.9 293.5L693.2 293.2L695.5 293.7L697.8 294.8L700.1 295.7L702.4 294.7L704.7 295.1L707.0 294.7L709.3 294.9L711.6 294.6L713.9 297.0L716.2 296.0L718.5 295.6L720.8 295.9L723.1 296.3L725.4 296.7L727.7 297.8L730.0 296.4L732.3 297.9L734.6 297.3L736.9 297.8L738.9 297.8"/>
</g>
<g fill="none" stroke-width="2.70" stroke-linejoin="round" stroke-linecap="round">
<path stroke="#e60a0a" d="M112.8 632.7L112.9 632.5L115.2 632.3L117.5 629.5L119.8 631.2L122.1 631.6L124.4 624.4L126.7 634.0L129.0 626.1L131.3 631.8L133.6 624.6L135.9 630.7L138.2 625.2L140.5 630.5L142.8 629.0L145.1 622.9L147.4 623.8L149.7 625.5L152.0 622.6L154.3 624.1L156.6 623.2L158.9 615.0L161.2 627.5L163.5 616.2L165.8 623.0L168.1 616.9L170.4 617.7L172.7 617.7L175.0 617.6L177.3 609.8L179.6 615.4L181.9 606.4L184.2 609.8L186.5 610.1L188.8 605.3L191.1 613.3L193.4 608.8L195.7 605.5L198.0 605.8L200.3 602.9L202.6 611.1L204.9 601.2L207.2 599.0L209.5 605.0L211.8 606.7L214.1 603.0L216.4 602.5L218.7 603.7L221.0 610.0L223.3 599.8L225.6 601.7L227.9 598.0L230.2 597.0L232.5 601.5L234.8 601.7L237.1 600.2L239.4 599.9L241.7 597.6L244.0 602.0L246.3 593.2L248.6 604.1L250.9 595.5L253.2 593.3L255.5 595.9L257.8 609.2L260.1 600.5L262.4 605.6L264.7 599.4L267.0 600.3L269.3 602.7L271.6 602.4L273.9 597.6L276.2 607.0L278.5 597.1L280.8 607.8L283.1 609.7L285.4 607.6L287.7 605.9L290.0 602.8L292.3 612.1L294.6 611.9L296.9 598.6L299.2 602.6L301.5 608.5L303.8 615.5L306.1 608.0L308.4 606.0L310.7 606.4L313.0 605.2L315.3 613.7L317.6 603.0L319.9 610.3L322.2 610.2L324.5 612.3L326.8 608.1L329.1 608.4L331.4 613.3L333.7 610.9L336.0 612.9L338.3 606.8L340.6 614.2L342.9 612.5L345.2 614.1L347.5 615.7L349.8 610.9L352.1 611.9L354.4 616.7L356.7 619.1L359.0 612.8L361.3 616.0L363.6 620.6L365.9 615.8L368.2 617.5L370.5 609.7L372.8 624.7L375.1 615.8L377.4 618.6L379.7 620.7L382.0 612.1L384.3 619.7L386.6 616.9L388.9 618.7L391.2 619.8L393.5 618.8L395.8 610.1L398.1 616.9L400.4 617.9L402.7 617.5L405.0 618.4L407.3 617.5L409.6 616.1L411.9 616.9L414.2 619.6L416.5 617.7L418.8 618.5L421.1 616.3L423.4 622.6L425.7 620.0L428.0 622.1L430.3 614.8L432.6 621.5L434.9 618.9L437.2 625.4L439.5 619.2L441.8 640.2L444.1 619.1L446.4 620.7L448.7 623.7L451.0 615.3L453.3 625.2L455.6 623.8L457.9 623.4L460.2 621.0L462.5 622.5L464.8 624.7L467.1 616.5L469.4 623.2L471.7 633.5L474.0 626.5L476.3 619.6L478.6 622.9L480.9 623.5L483.2 623.2L485.5 625.1L487.8 629.2L490.1 622.4L492.4 625.2L494.7 624.4L497.0 623.8L499.3 624.0L501.6 625.5L503.9 623.1L506.2 629.9L508.5 621.5L510.8 624.8L513.1 621.0L515.4 625.6L517.7 623.5L520.0 628.2L522.3 622.1L524.6 621.6L526.9 625.0L529.2 625.5L531.5 618.0L533.8 629.5L536.1 618.0L538.4 631.0L540.7 626.4L543.0 629.5L545.3 622.8L547.6 622.1L549.9 618.9L552.2 628.5L554.5 624.1L556.8 622.7L559.1 624.5L561.4 622.0L563.7 625.5L566.0 620.8L568.3 621.8L570.6 624.3L572.9 622.4L575.2 624.6L577.5 618.8L579.8 623.9L582.1 621.1L584.4 629.7L586.7 626.0L589.0 624.0L591.3 622.0L593.6 625.6L595.9 628.9L598.2 623.1L600.5 620.6L602.8 632.7L605.1 622.9L607.4 617.5L609.7 622.8L612.0 624.6L614.3 621.6L616.6 623.0L618.9 624.8L621.2 629.0L623.5 624.4L625.8 622.7L628.1 625.2L630.4 621.0L632.7 623.8L635.0 626.7L637.3 619.1L639.6 628.0L641.9 625.7L644.2 624.0L646.5 622.4L648.8 626.2L651.1 624.1L653.4 625.1L655.7 619.3L658.0 622.4L660.3 617.4L662.6 623.8L664.9 622.6L667.2 628.5L669.5 629.1L671.8 619.6L674.1 625.0L676.4 629.4L678.7 626.3L681.0 624.9L683.3 625.2L685.6 624.0L687.9 618.3L690.2 625.1L692.5 628.0L694.8 628.8L697.1 627.0L699.4 628.8L701.7 626.4L704.0 624.5L706.3 622.5L708.6 626.2L710.9 625.9L713.2 630.1L715.5 627.9L717.8 625.2L720.1 625.6L722.4 629.6L724.7 629.9L727.0 628.4L729.3 624.5L731.6 628.5L733.9 627.5L736.2 629.8L738.5 629.0L738.9 625.0"/>
<path stroke="#0af00a" d="M112.8 637.0L114.0 635.7L116.3 632.6L118.6 634.0L120.9 638.7L123.2 633.3L125.5 639.9L127.8 634.9L130.1 632.3L132.4 633.9L134.7 639.0L137.0 634.8L139.3 632.8L141.6 638.0L143.9 636.9L146.2 632.6L148.5 635.1L150.8 630.5L153.1 635.8L155.4 635.1L157.7 637.5L160.0 637.1L162.3 637.4L164.6 629.1L166.9 632.7L169.2 635.3L171.5 628.6L173.8 628.3L176.1 628.6L178.4 623.3L180.7 629.8L183.0 624.6L185.3 619.3L187.6 620.9L189.9 620.0L192.2 618.1L194.5 629.0L196.8 625.2L199.1 631.5L201.4 624.4L203.7 624.6L206.0 621.5L208.3 618.0L210.6 623.0L212.9 618.6L215.2 621.2L217.5 624.1L219.8 618.0L222.1 616.6L224.4 608.6L226.7 614.8L229.0 608.2L231.3 612.8L233.6 612.7L235.9 609.3L238.2 604.4L240.5 605.0L242.8 607.8L245.1 610.6L247.4 600.0L249.7 606.1L252.0 607.5L254.3 609.8L256.6 600.7L258.9 598.4L261.2 597.0L263.5 595.5L265.8 601.3L268.1 604.1L270.4 603.4L272.7 598.5L275.0 599.3L277.3 596.1L279.6 590.1L281.9 600.0L284.2 597.1L286.5 601.1L288.8 594.6L291.1 598.6L293.4 604.4L295.7 602.1L298.0 594.2L300.3 595.7L302.6 594.0L304.9 600.4L307.2 597.2L309.5 600.4L311.8 594.6L314.1 609.9L316.4 591.9L318.7 604.5L321.0 595.2L323.3 604.0L325.6 600.0L327.9 603.8L330.2 595.6L332.5 606.2L334.8 604.6L337.1 598.0L339.4 600.7L341.7 607.8L344.0 602.1L346.3 606.0L348.6 596.6L350.9 604.3L353.2 609.0L355.5 601.9L357.8 605.0L360.1 607.9L362.4 609.3L364.7 612.3L367.0 608.2L369.3 610.8L371.6 604.1L373.9 609.0L376.2 607.0L378.5 608.9L380.8 610.6L383.1 608.6L385.4 605.9L387.7 606.5L390.0 610.0L392.3 613.8L394.6 606.6L396.9 604.4L399.2 613.9L401.5 615.2L403.8 606.0L406.1 612.4L408.4 605.5L410.7 620.8L413.0 608.9L415.3 609.1L417.6 616.0L419.9 609.8L422.2 618.1L424.5 612.0L426.8 614.9L429.1 616.0L431.4 616.9L433.7 622.1L436.0 614.7L438.3 617.6L440.6 613.8L442.9 616.8L445.2 617.8L447.5 617.9L449.8 617.1L452.1 613.1L454.4 613.4L456.7 615.8L459.0 616.5L461.3 614.0L463.6 615.1L465.9 627.4L468.2 614.8L470.5 624.2L472.8 620.3L475.1 625.1L477.4 614.8L479.7 623.1L482.0 609.8L484.3 620.2L486.6 620.7L488.9 619.0L491.2 618.7L493.5 618.0L495.8 628.9L498.1 622.3L500.4 621.2L502.7 621.0L505.0 621.4L507.3 619.3L509.6 621.0L511.9 620.8L514.2 617.2L516.5 624.1L518.8 621.4L521.1 610.1L523.4 621.5L525.7 624.6L528.0 629.8L530.3 621.5L532.6 622.0L534.9 625.0L537.2 616.4L539.5 629.0L541.8 620.1L544.1 616.6L546.4 623.0L548.7 617.4L551.0 623.0L553.3 624.4L555.6 621.8L557.9 621.6L560.2 621.0L562.5 625.4L564.8 626.3L567.1 620.4L569.4 621.6L571.7 619.3L574.0 621.0L576.3 620.9L578.6 621.5L580.9 623.5L583.2 615.9L585.5 622.6L587.8 613.2L590.1 622.8L592.4 625.5L594.7 624.3L597.0 618.6L599.3 620.3L601.6 621.6L603.9 620.7L606.2 618.5L608.5 621.4L610.8 623.0L613.1 618.8L615.4 620.3L617.7 619.2L620.0 621.6L622.3 618.6L624.6 625.6L626.9 624.4L629.2 611.3L631.5 627.3L633.8 619.4L636.1 624.8L638.4 622.3L640.7 621.9L643.0 616.5L645.3 619.3L647.6 620.9L649.9 626.4L652.2 626.7L654.5 622.8L656.8 622.8L659.1 627.5L661.4 618.0L663.7 620.7L666.0 617.5L668.3 626.6L670.6 621.2L672.9 627.3L675.2 617.6L677.5 630.7L679.8 620.8L682.1 619.4L684.4 620.1L686.7 623.8L689.0 626.1L691.3 626.9L693.6 626.9L695.9 630.8L698.2 621.3L700.5 627.0L702.8 621.9L705.1 623.9L707.4 626.0L709.7 630.8L712.0 623.5L714.3 630.5L716.6 625.8L718.9 625.4L721.2 623.2L723.5 628.7L725.8 624.4L728.1 625.9L730.4 623.8L732.7 626.5L735.0 624.8L737.3 627.8L738.9 620.3"/>
<path stroke="#0000e6" d="M112.8 632.6L114.9 635.1L117.2 633.8L119.5 634.1L121.8 634.4L124.1 635.8L126.4 635.1L128.7 632.8L131.0 632.8L133.3 635.4L135.6 636.4L137.9 635.6L140.2 634.3L142.5 635.0L144.8 632.4L147.1 633.4L149.4 637.2L151.7 632.6L154.0 636.7L156.3 634.0L158.6 634.7L160.9 632.8L163.2 636.2L165.5 634.0L167.8 633.5L170.1 635.0L172.4 631.4L174.7 637.8L177.0 634.2L179.3 633.1L181.6 634.0L183.9 636.1L186.2 633.7L188.5 638.6L190.8 638.8L193.1 633.9L195.4 634.0L197.7 635.8L200.0 634.2L202.3 633.4L204.6 635.5L206.9 635.6L209.2 633.8L211.5 633.1L213.8 636.4L216.1 633.0L218.4 635.8L220.7 633.6L223.0 634.7L225.3 631.4L227.6 630.9L229.9 634.2L232.2 635.8L234.5 632.4L236.8 633.8L239.1 633.8L241.4 632.0L243.7 624.7L246.0 629.0L248.3 626.3L250.6 629.5L252.9 625.1L255.2 626.1L257.5 628.2L259.8 620.6L262.1 622.4L264.4 627.5L266.7 622.9L269.0 620.6L271.3 616.9L273.6 622.1L275.9 615.7L278.2 613.6L280.5 611.3L282.8 618.6L285.1 611.6L287.4 615.0L289.7 610.2L292.0 612.1L294.3 605.3L296.6 610.8L298.9 607.6L301.2 605.1L303.5 603.8L305.8 606.1L308.1 596.5L310.4 606.1L312.7 604.1L315.0 600.2L317.3 599.5L319.6 593.3L321.9 590.2L324.2 591.5L326.5 589.2L328.8 587.4L331.1 589.2L333.4 587.9L335.7 584.6L338.0 592.0L340.3 582.2L342.6 586.5L344.9 587.3L347.2 591.6L349.5 581.8L351.8 593.6L354.1 587.9L356.4 589.5L358.7 587.2L361.0 592.8L363.3 590.9L365.6 598.0L367.9 594.6L370.2 591.1L372.5 597.4L374.8 600.7L377.1 592.4L379.4 594.5L381.7 602.6L384.0 596.6L386.3 597.4L388.6 599.1L390.9 599.9L393.2 600.0L395.5 603.4L397.8 604.6L400.1 602.2L402.4 602.3L404.7 604.5L407.0 600.1L409.3 608.2L411.6 604.7L413.9 603.9L416.2 607.9L418.5 603.2L420.8 601.6L423.1 600.8L425.4 606.8L427.7 607.2L430.0 611.0L432.3 609.2L434.6 607.5L436.9 607.5L439.2 610.2L441.5 604.9L443.8 608.9L446.1 611.8L448.4 611.9L450.7 608.1L453.0 614.9L455.3 612.2L457.6 615.6L459.9 609.1L462.2 614.9L464.5 614.3L466.8 616.9L469.1 617.0L471.4 618.2L473.7 617.7L476.0 619.2L478.3 614.4L480.6 617.1L482.9 620.4L485.2 623.3L487.5 617.6L489.8 618.8L492.1 619.2L494.4 619.9L496.7 614.0L499.0 622.2L501.3 617.8L503.6 619.4L505.9 617.4L508.2 621.8L510.5 617.8L512.8 624.1L515.1 620.6L517.4 620.1L519.7 619.7L522.0 621.6L524.3 617.3L526.6 613.8L528.9 616.8L531.2 622.7L533.5 623.6L535.8 624.5L538.1 620.3L540.4 619.6L542.7 621.5L545.0 618.2L547.3 616.2L549.6 616.5L551.9 615.1L554.2 618.7L556.5 625.0L558.8 619.2L561.1 618.5L563.4 619.7L565.7 615.6L568.0 612.1L570.3 614.1L572.6 620.4L574.9 620.6L577.2 618.0L579.5 619.1L581.8 618.0L584.1 618.4L586.4 620.6L588.7 616.5L591.0 615.9L593.3 617.0L595.6 621.7L597.9 615.8L600.2 621.7L602.5 615.8L604.8 614.6L607.1 623.2L609.4 621.2L611.7 619.4L614.0 620.2L616.3 620.2L618.6 627.6L620.9 616.7L623.2 614.9L625.5 621.6L627.8 619.7L630.1 618.9L632.4 617.8L634.7 622.2L637.0 620.0L639.3 620.8L641.6 620.6L643.9 614.1L646.2 622.8L648.5 614.3L650.8 623.2L653.1 620.4L655.4 622.3L657.7 618.7L660.0 619.6L662.3 624.7L664.6 621.4L666.9 620.2L669.2 630.2L671.5 620.9L673.8 622.1L676.1 615.8L678.4 617.6L680.7 624.8L683.0 621.3L685.3 623.9L687.6 621.0L689.9 623.5L692.2 618.9L694.5 622.0L696.8 626.9L699.1 623.3L701.4 624.9L703.7 622.6L706.0 623.7L708.3 628.1L710.6 627.3L712.9 624.9L715.2 623.3L717.5 624.4L719.8 627.1L722.1 621.9L724.4 621.5L726.7 624.0L729.0 627.3L731.3 623.9L733.6 626.9L735.9 626.3L738.2 625.6L738.9 621.7"/>
<path stroke="#10f0f0" d="M112.8 633.4L114.2 630.3L116.5 636.3L118.8 631.9L121.1 636.0L123.4 633.4L125.7 635.7L128.0 631.1L130.3 633.3L132.6 634.2L134.9 633.8L137.2 632.0L139.5 633.0L141.8 635.8L144.1 631.9L146.4 633.7L148.7 632.4L151.0 636.1L153.3 633.3L155.6 633.2L157.9 632.9L160.2 631.6L162.5 635.7L164.8 634.4L167.1 635.4L169.4 634.2L171.7 633.6L174.0 632.6L176.3 635.3L178.6 632.7L180.9 633.1L183.2 633.9L185.5 637.8L187.8 635.6L190.1 635.9L192.4 634.1L194.7 633.3L197.0 633.4L199.3 631.2L201.6 635.7L203.9 636.7L206.2 629.1L208.5 634.5L210.8 633.5L213.1 632.7L215.4 631.7L217.7 635.0L220.0 630.9L222.3 635.5L224.6 634.7L226.9 635.6L229.2 631.0L231.5 632.2L233.8 633.2L236.1 634.4L238.4 633.8L240.7 635.5L243.0 634.3L245.3 633.8L247.6 632.9L249.9 631.7L252.2 632.7L254.5 631.3L256.8 632.2L259.1 635.5L261.4 634.2L263.7 634.0L266.0 632.4L268.3 637.9L270.6 632.2L272.9 635.6L275.2 634.3L277.5 634.7L279.8 635.5L282.1 633.9L284.4 633.2L286.7 635.8L289.0 629.9L291.3 635.4L293.6 633.5L295.9 638.7L298.2 634.5L300.5 635.0L302.8 632.7L305.1 631.6L307.4 631.3L309.7 627.7L312.0 629.2L314.3 628.5L316.6 627.7L318.9 628.0L321.2 625.0L323.5 629.0L325.8 620.1L328.1 627.5L330.4 618.1L332.7 619.3L335.0 616.9L337.3 617.7L339.6 618.9L341.9 614.2L344.2 613.8L346.5 610.4L348.8 606.2L351.1 606.5L353.4 600.7L355.7 608.4L358.0 597.3L360.3 598.4L362.6 592.9L364.9 594.4L367.2 588.5L369.5 594.4L371.8 590.6L374.1 589.7L376.4 590.6L378.7 590.2L381.0 583.6L383.3 588.2L385.6 584.2L387.9 584.1L390.2 581.2L392.5 581.5L394.8 578.2L397.1 579.0L399.4 576.8L401.7 580.1L404.0 582.4L406.3 582.8L408.6 580.3L410.9 585.4L413.2 581.6L415.5 578.1L417.8 582.4L420.1 585.9L422.4 584.1L424.7 587.0L427.0 593.3L429.3 588.0L431.6 588.2L433.9 593.1L436.2 585.5L438.5 592.4L440.8 589.4L443.1 596.4L445.4 592.0L447.7 595.6L450.0 596.6L452.3 596.2L454.6 599.6L456.9 601.3L459.2 599.7L461.5 600.8L463.8 602.0L466.1 604.1L468.4 601.9L470.7 601.6L473.0 602.4L475.3 601.0L477.6 601.2L479.9 603.6L482.2 603.7L484.5 603.2L486.8 606.4L489.1 602.9L491.4 604.4L493.7 606.0L496.0 609.4L498.3 611.3L500.6 604.6L502.9 610.3L505.2 607.5L507.5 611.4L509.8 607.4L512.1 613.9L514.4 606.9L516.7 613.4L519.0 614.1L521.3 612.8L523.6 612.5L525.9 604.3L528.2 611.5L530.5 617.7L532.8 608.9L535.1 616.1L537.4 616.2L539.7 619.2L542.0 614.8L544.3 616.3L546.6 618.7L548.9 611.8L551.2 618.4L553.5 615.0L555.8 622.0L558.1 615.0L560.4 618.9L562.7 616.2L565.0 609.3L567.3 623.1L569.6 617.1L571.9 619.1L574.2 615.6L576.5 622.9L578.8 615.0L581.1 616.0L583.4 618.7L585.7 619.9L588.0 620.4L590.3 617.3L592.6 618.4L594.9 620.7L597.2 619.7L599.5 614.9L601.8 619.8L604.1 620.3L606.4 617.3L608.7 624.0L611.0 619.9L613.3 621.1L615.6 619.3L617.9 616.9L620.2 619.5L622.5 620.5L624.8 617.0L627.1 620.0L629.4 609.6L631.7 618.0L634.0 613.7L636.3 617.3L638.6 619.4L640.9 622.8L643.2 619.1L645.5 619.9L647.8 621.5L650.1 622.7L652.4 616.9L654.7 620.3L657.0 621.4L659.3 617.6L661.6 618.7L663.9 620.7L666.2 621.7L668.5 621.1L670.8 620.7L673.1 620.1L675.4 620.7L677.7 625.5L680.0 617.6L682.3 624.9L684.6 624.2L686.9 623.2L689.2 622.9L691.5 621.8L693.8 621.3L696.1 624.7L698.4 626.8L700.7 625.8L703.0 624.3L705.3 622.5L707.6 621.9L709.9 627.7L712.2 622.1L714.5 628.6L716.8 625.0L719.1 628.4L721.4 626.0L723.7 626.9L726.0 625.0L728.3 625.0L730.6 623.4L732.9 627.4L735.2 625.0L737.5 626.8L738.9 624.4"/>
<path stroke="#e60aeb" d="M112.8 634.3L113.0 632.8L115.3 633.6L117.6 632.4L119.9 634.3L122.2 633.8L124.5 635.5L126.8 633.5L129.1 634.5L131.4 634.2L133.7 634.8L136.0 636.3L138.3 634.4L140.6 634.6L142.9 636.4L145.2 634.6L147.5 633.9L149.8 633.8L152.1 631.9L154.4 635.3L156.7 635.7L159.0 635.2L161.3 635.1L163.6 632.8L165.9 634.4L168.2 632.9L170.5 635.6L172.8 634.9L175.1 634.5L177.4 632.9L179.7 637.2L182.0 633.3L184.3 634.0L186.6 634.1L188.9 634.0L191.2 631.2L193.5 633.1L195.8 633.5L198.1 635.9L200.4 632.7L202.7 635.3L205.0 632.2L207.3 633.8L209.6 635.2L211.9 636.2L214.2 634.5L216.5 635.3L218.8 633.6L221.1 633.8L223.4 634.4L225.7 635.5L228.0 633.0L230.3 633.6L232.6 633.6L234.9 634.1L237.2 634.4L239.5 633.8L241.8 633.1L244.1 634.3L246.4 632.4L248.7 634.9L251.0 633.2L253.3 631.2L255.6 633.1L257.9 633.9L260.2 635.0L262.5 634.5L264.8 632.0L267.1 633.8L269.4 634.8L271.7 635.3L274.0 633.5L276.3 635.5L278.6 635.6L280.9 632.5L283.2 635.4L285.5 637.8L287.8 631.4L290.1 635.5L292.4 635.9L294.7 633.9L297.0 635.1L299.3 631.2L301.6 632.4L303.9 635.2L306.2 632.6L308.5 636.4L310.8 633.8L313.1 637.3L315.4 632.2L317.7 632.9L320.0 635.4L322.3 634.0L324.6 634.5L326.9 633.4L329.2 636.0L331.5 633.1L333.8 634.2L336.1 636.4L338.4 632.7L340.7 633.4L343.0 633.8L345.3 632.4L347.6 634.2L349.9 635.3L352.2 635.6L354.5 634.2L356.8 634.3L359.1 635.5L361.4 635.2L363.7 635.2L366.0 634.0L368.3 633.8L370.6 634.5L372.9 633.9L375.2 634.4L377.5 634.9L379.8 628.8L382.1 626.2L384.4 622.0L386.7 621.5L389.0 620.6L391.3 628.4L393.6 614.4L395.9 618.5L398.2 613.2L400.5 613.7L402.8 611.7L405.1 613.1L407.4 603.7L409.7 605.3L412.0 602.2L414.3 604.7L416.6 594.6L418.9 594.9L421.2 591.0L423.5 582.5L425.8 577.5L428.1 574.8L430.4 575.8L432.7 574.3L435.0 572.0L437.3 571.8L439.6 566.9L441.9 573.9L444.2 566.8L446.5 570.2L448.8 564.8L451.1 570.8L453.4 572.0L455.7 569.2L458.0 568.6L460.3 568.4L462.6 570.2L464.9 573.3L467.2 574.6L469.5 573.3L471.8 571.2L474.1 578.0L476.4 576.0L478.7 575.3L481.0 579.2L483.3 580.8L485.6 574.2L487.9 577.9L490.2 578.6L492.5 584.2L494.8 581.7L497.1 587.0L499.4 586.8L501.7 588.3L504.0 585.2L506.3 594.1L508.6 584.4L510.9 595.5L513.2 593.1L515.5 596.1L517.8 592.9L520.1 598.1L522.4 598.1L524.7 600.0L527.0 602.8L529.3 601.5L531.6 606.3L533.9 605.8L536.2 605.8L538.5 609.2L540.8 607.0L543.1 609.7L545.4 605.7L547.7 607.4L550.0 613.1L552.3 610.1L554.6 612.3L556.9 614.7L559.2 614.2L561.5 614.1L563.8 615.0L566.1 615.4L568.4 612.4L570.7 617.5L573.0 614.1L575.3 616.6L577.6 612.6L579.9 616.8L582.2 615.3L584.5 616.8L586.8 615.5L589.1 619.0L591.4 613.4L593.7 616.1L596.0 616.1L598.3 617.4L600.6 613.0L602.9 616.3L605.2 615.7L607.5 613.2L609.8 610.9L612.1 617.1L614.4 615.5L616.7 618.5L619.0 616.7L621.3 615.8L623.6 615.8L625.9 617.3L628.2 613.8L630.5 611.4L632.8 614.5L635.1 614.8L637.4 609.7L639.7 613.5L642.0 615.0L644.3 612.3L646.6 618.1L648.9 614.9L651.2 616.0L653.5 617.8L655.8 616.7L658.1 616.8L660.4 614.8L662.7 618.3L665.0 618.5L667.3 620.4L669.6 619.0L671.9 615.6L674.2 616.3L676.5 621.8L678.8 621.2L681.1 622.9L683.4 620.9L685.7 622.6L688.0 621.4L690.3 621.5L692.6 624.0L694.9 625.3L697.2 623.9L699.5 622.3L701.8 624.5L704.1 623.0L706.4 626.9L708.7 627.7L711.0 629.3L713.3 624.0L715.6 624.6L717.9 627.3L720.2 625.9L722.5 626.4L724.8 626.7L727.1 626.5L729.4 622.4L731.7 627.9L734.0 627.2L736.3 627.4L738.6 624.1L738.9 628.1"/>
<path stroke="#7f00f0" d="M112.8 633.1L114.4 633.6L116.7 635.1L119.0 634.9L121.3 634.5L123.6 633.3L125.9 633.9L128.2 633.0L130.5 633.3L132.8 634.4L135.1 633.3L137.4 634.4L139.7 633.4L142.0 632.9L144.3 634.1L146.6 636.3L148.9 634.4L151.2 633.3L153.5 635.5L155.8 634.3L158.1 633.1L160.4 632.9L162.7 634.8L165.0 632.9L167.3 633.9L169.6 633.6L171.9 635.4L174.2 634.2L176.5 632.9L178.8 631.7L181.1 635.8L183.4 634.7L185.7 635.2L188.0 634.4L190.3 635.6L192.6 632.2L194.9 635.6L197.2 633.6L199.5 634.1L201.8 635.3L204.1 633.1L206.4 633.9L208.7 635.4L211.0 633.4L213.3 633.9L215.6 632.8L217.9 632.3L220.2 634.8L222.5 635.0L224.8 633.8L227.1 634.4L229.4 632.7L231.7 632.3L234.0 632.8L236.3 633.4L238.6 633.4L240.9 634.3L243.2 633.7L245.5 633.0L247.8 632.7L250.1 636.0L252.4 633.5L254.7 634.2L257.0 634.5L259.3 632.7L261.6 633.6L263.9 634.4L266.2 633.2L268.5 634.8L270.8 634.4L273.1 634.8L275.4 634.2L277.7 636.0L280.0 633.3L282.3 636.4L284.6 635.5L286.9 634.6L289.2 632.7L291.5 633.6L293.8 636.1L296.1 632.2L298.4 636.4L300.7 631.4L303.0 634.0L305.3 634.5L307.6 633.6L309.9 632.1L312.2 633.1L314.5 636.4L316.8 634.1L319.1 634.5L321.4 634.0L323.7 634.0L326.0 634.9L328.3 633.0L330.6 633.6L332.9 634.4L335.2 636.4L337.5 630.6L339.8 629.5L342.1 633.2L344.4 632.8L346.7 634.2L349.0 633.7L351.3 635.3L353.6 633.2L355.9 634.0L358.2 632.5L360.5 632.9L362.8 636.5L365.1 634.1L367.4 634.9L369.7 634.4L372.0 632.8L374.3 633.7L376.6 635.2L378.9 633.0L381.2 632.7L383.5 634.4L385.8 633.6L388.1 632.8L390.4 633.3L392.7 635.1L395.0 635.5L397.3 634.3L399.6 633.9L401.9 633.4L404.2 632.6L406.5 633.9L408.8 633.4L411.1 634.5L413.4 635.0L415.7 635.0L418.0 633.3L420.3 633.6L422.6 630.9L424.9 635.0L427.2 634.0L429.5 635.2L431.8 633.3L434.1 633.7L436.4 632.2L438.7 636.4L441.0 638.8L443.3 633.2L445.6 633.5L447.9 633.8L450.2 633.3L452.5 636.1L454.8 632.6L457.1 634.3L459.4 633.3L461.7 632.8L464.0 626.0L466.3 628.1L468.6 626.9L470.9 621.9L473.2 616.7L475.5 616.7L477.8 605.0L480.1 604.3L482.4 598.2L484.7 598.2L487.0 591.6L489.3 587.2L491.6 586.8L493.9 582.3L496.2 576.2L498.5 569.4L500.8 565.6L503.1 562.2L505.4 558.7L507.7 561.0L510.0 555.6L512.3 552.9L514.6 551.9L516.9 552.8L519.2 553.0L521.5 553.6L523.8 550.0L526.1 555.7L528.4 548.6L530.7 554.2L533.0 551.7L535.3 552.8L537.6 555.9L539.9 556.9L542.2 557.1L544.5 562.1L546.8 559.9L549.1 566.3L551.4 566.5L553.7 569.8L556.0 568.4L558.3 566.9L560.6 571.2L562.9 575.0L565.2 575.4L567.5 580.8L569.8 585.2L572.1 582.6L574.4 586.5L576.7 586.9L579.0 586.3L581.3 590.9L583.6 590.3L585.9 593.4L588.2 599.3L590.5 597.9L592.8 602.3L595.1 600.5L597.4 602.7L599.7 601.0L602.0 602.4L604.3 611.1L606.6 606.0L608.9 609.2L611.2 607.1L613.5 610.5L615.8 606.0L618.1 609.9L620.4 612.6L622.7 611.5L625.0 608.7L627.3 609.2L629.6 609.5L631.9 609.8L634.2 611.7L636.5 609.5L638.8 607.3L641.1 607.0L643.4 609.7L645.7 611.1L648.0 609.5L650.3 612.1L652.6 608.5L654.9 613.2L657.2 609.2L659.5 611.7L661.8 612.5L664.1 610.0L666.4 613.0L668.7 613.0L671.0 611.6L673.3 615.2L675.6 615.9L677.9 615.3L680.2 617.4L682.5 620.4L684.8 622.9L687.1 621.2L689.4 625.0L691.7 621.4L694.0 626.7L696.3 626.3L698.6 623.3L700.9 625.2L703.2 625.5L705.5 626.9L707.8 624.8L710.1 624.2L712.4 626.9L714.7 626.6L717.0 623.6L719.3 628.3L721.6 625.4L723.9 628.5L726.2 625.0L728.5 628.6L730.8 626.7L733.1 626.0L735.4 627.0L737.7 626.9L738.9 627.2"/>
<path stroke="#80820f" d="M112.8 633.5L113.0 635.4L115.3 632.3L117.6 633.4L119.9 633.6L122.2 633.6L124.5 633.6L126.8 634.0L129.1 635.4L131.4 634.2L133.7 633.7L136.0 635.4L138.3 636.2L140.6 633.6L142.9 633.4L145.2 634.6L147.5 633.5L149.8 634.5L152.1 632.7L154.4 633.9L156.7 633.6L159.0 633.2L161.3 636.0L163.6 633.0L165.9 634.0L168.2 634.5L170.5 632.9L172.8 633.2L175.1 633.3L177.4 634.3L179.7 633.1L182.0 633.2L184.3 634.1L186.6 635.6L188.9 635.0L191.2 636.5L193.5 633.2L195.8 636.3L198.1 635.5L200.4 633.9L202.7 633.0L205.0 633.1L207.3 633.5L209.6 633.1L211.9 633.0L214.2 632.8L216.5 632.4L218.8 633.4L221.1 635.0L223.4 630.4L225.7 634.6L228.0 634.5L230.3 634.3L232.6 633.3L234.9 633.9L237.2 635.3L239.5 634.7L241.8 635.4L244.1 634.0L246.4 633.5L248.7 635.5L251.0 633.3L253.3 632.7L255.6 634.5L257.9 634.4L260.2 633.8L262.5 635.4L264.8 633.8L267.1 634.8L269.4 635.2L271.7 636.0L274.0 634.0L276.3 634.5L278.6 633.1L280.9 633.6L283.2 632.4L285.5 633.4L287.8 633.4L290.1 634.5L292.4 633.9L294.7 634.5L297.0 632.4L299.3 632.3L301.6 632.9L303.9 636.5L306.2 633.0L308.5 635.3L310.8 633.6L313.1 633.7L315.4 633.9L317.7 633.1L320.0 632.9L322.3 632.8L324.6 631.3L326.9 636.4L329.2 632.7L331.5 633.5L333.8 632.6L336.1 634.3L338.4 632.6L340.7 634.9L343.0 633.1L345.3 634.0L347.6 634.1L349.9 635.7L352.2 634.6L354.5 632.8L356.8 635.0L359.1 637.3L361.4 633.2L363.7 634.4L366.0 633.6L368.3 634.3L370.6 634.2L372.9 635.3L375.2 632.7L377.5 634.4L379.8 632.6L382.1 634.5L384.4 634.1L386.7 633.6L389.0 632.8L391.3 633.9L393.6 633.8L395.9 634.4L398.2 634.3L400.5 631.5L402.8 633.9L405.1 633.8L407.4 632.2L409.7 635.4L412.0 634.3L414.3 633.9L416.6 635.9L418.9 635.1L421.2 633.4L423.5 635.0L425.8 635.5L428.1 633.5L430.4 632.5L432.7 633.0L435.0 632.9L437.3 633.9L439.6 635.4L441.9 633.9L444.2 635.0L446.5 635.7L448.8 631.7L451.1 634.2L453.4 633.3L455.7 635.1L458.0 634.3L460.3 633.0L462.6 635.6L464.9 634.3L467.2 632.9L469.5 634.5L471.8 633.4L474.1 633.3L476.4 634.2L478.7 634.3L481.0 633.1L483.3 633.5L485.6 634.2L487.9 634.2L490.2 632.9L492.5 634.1L494.8 632.1L497.1 630.9L499.4 631.1L501.7 629.5L504.0 628.5L506.3 627.2L508.6 622.8L510.9 620.3L513.2 620.1L515.5 616.4L517.8 610.2L520.1 605.3L522.4 598.6L524.7 596.3L527.0 588.5L529.3 584.0L531.6 577.7L533.9 575.7L536.2 573.0L538.5 565.8L540.8 562.0L543.1 559.1L545.4 553.7L547.7 552.1L550.0 546.1L552.3 543.6L554.6 537.1L556.9 531.0L559.2 530.9L561.5 527.7L563.8 523.2L566.1 525.0L568.4 521.4L570.7 524.1L573.0 521.9L575.3 528.2L577.6 527.3L579.9 534.2L582.2 534.8L584.5 540.9L586.8 543.5L589.1 552.4L591.4 554.7L593.7 563.7L596.0 566.0L598.3 570.7L600.6 570.1L602.9 573.6L605.2 577.7L607.5 581.1L609.8 581.9L612.1 588.0L614.4 588.3L616.7 597.7L619.0 594.0L621.3 596.1L623.6 594.8L625.9 598.7L628.2 597.7L630.5 600.5L632.8 597.7L635.1 602.8L637.4 599.4L639.7 604.0L642.0 602.1L644.3 607.1L646.6 599.2L648.9 604.4L651.2 603.0L653.5 607.4L655.8 606.0L658.1 607.7L660.4 606.8L662.7 606.6L665.0 610.9L667.3 608.0L669.6 608.1L671.9 609.5L674.2 610.5L676.5 612.8L678.8 614.3L681.1 617.6L683.4 616.7L685.7 618.1L688.0 620.5L690.3 621.0L692.6 621.5L694.9 617.7L697.2 624.6L699.5 621.5L701.8 626.0L704.1 622.2L706.4 625.8L708.7 627.4L711.0 626.2L713.3 626.4L715.6 626.5L717.9 623.4L720.2 624.8L722.5 627.0L724.8 622.1L727.1 627.1L729.4 626.5L731.7 628.0L734.0 625.7L736.3 627.5L738.6 630.6L738.9 626.1"/>
<path stroke="#00006e" d="M112.8 635.6L114.5 632.3L116.8 633.8L119.1 633.5L121.4 634.3L123.7 633.4L126.0 635.0L128.3 635.2L130.6 634.0L132.9 634.5L135.2 633.5L137.5 632.5L139.8 633.8L142.1 635.4L144.4 633.5L146.7 634.4L149.0 633.1L151.3 634.8L153.6 635.2L155.9 632.6L158.2 634.3L160.5 633.6L162.8 634.2L165.1 633.0L167.4 634.7L169.7 633.8L172.0 635.7L174.3 633.8L176.6 634.0L178.9 633.1L181.2 634.0L183.5 635.8L185.8 635.2L188.1 633.9L190.4 634.3L192.7 633.8L195.0 635.3L197.3 635.3L199.6 633.7L201.9 633.7L204.2 633.6L206.5 635.5L208.8 633.7L211.1 633.4L213.4 633.3L215.7 633.7L218.0 634.7L220.3 635.4L222.6 633.2L224.9 632.9L227.2 633.6L229.5 634.4L231.8 633.7L234.1 633.4L236.4 634.5L238.7 631.7L241.0 635.3L243.3 634.9L245.6 632.3L247.9 633.9L250.2 633.0L252.5 633.7L254.8 635.0L257.1 633.3L259.4 635.4L261.7 633.6L264.0 634.7L266.3 634.5L268.6 634.7L270.9 633.9L273.2 634.9L275.5 632.4L277.8 634.1L280.1 633.0L282.4 634.9L284.7 635.7L287.0 634.2L289.3 633.6L291.6 634.3L293.9 634.2L296.2 632.7L298.5 634.0L300.8 634.4L303.1 634.7L305.4 635.2L307.7 633.9L310.0 633.9L312.3 635.0L314.6 634.7L316.9 633.6L319.2 635.6L321.5 634.5L323.8 636.3L326.1 632.6L328.4 634.7L330.7 633.5L333.0 635.1L335.3 633.5L337.6 635.0L339.9 635.2L342.2 633.3L344.5 633.6L346.8 632.4L349.1 634.7L351.4 635.7L353.7 633.2L356.0 635.3L358.3 635.1L360.6 633.6L362.9 633.7L365.2 634.7L367.5 633.3L369.8 633.8L372.1 633.5L374.4 631.3L376.7 632.6L379.0 635.3L381.3 633.7L383.6 633.7L385.9 634.2L388.2 634.2L390.5 632.9L392.8 633.0L395.1 633.3L397.4 634.4L399.7 634.2L402.0 634.7L404.3 633.3L406.6 635.8L408.9 633.6L411.2 633.6L413.5 633.4L415.8 633.1L418.1 635.2L420.4 636.5L422.7 632.5L425.0 633.3L427.3 633.9L429.6 634.4L431.9 634.5L434.2 633.0L436.5 633.0L438.8 632.3L441.1 634.4L443.4 633.4L445.7 631.6L448.0 634.2L450.3 635.1L452.6 633.7L454.9 633.3L457.2 634.6L459.5 631.6L461.8 633.9L464.1 634.4L466.4 633.7L468.7 633.5L471.0 634.0L473.3 633.4L475.6 633.6L477.9 632.0L480.2 633.7L482.5 632.2L484.8 633.8L487.1 633.8L489.4 632.0L491.7 632.2L494.0 634.8L496.3 634.2L498.6 634.4L500.9 633.4L503.2 635.0L505.5 633.3L507.8 634.1L510.1 634.0L512.4 633.5L514.7 632.6L517.0 632.3L519.3 634.5L521.6 634.0L523.9 634.2L526.2 634.1L528.5 632.5L530.8 633.0L533.1 635.3L535.4 635.4L537.7 634.0L540.0 634.5L542.3 634.4L544.6 635.0L546.9 632.1L549.2 633.0L551.5 630.2L553.8 628.5L556.1 628.1L558.4 625.9L560.7 622.2L563.0 620.9L565.3 614.5L567.6 611.6L569.9 603.8L572.2 597.9L574.5 595.3L576.8 588.9L579.1 582.0L581.4 580.5L583.7 578.0L586.0 576.7L588.3 566.3L590.6 555.4L592.9 543.1L595.2 534.0L597.5 515.7L599.8 506.2L602.1 489.9L604.4 483.0L606.7 473.9L609.0 467.2L611.3 466.3L613.6 462.7L615.9 463.9L618.2 471.9L620.5 471.5L622.8 476.9L625.1 482.6L627.4 493.5L629.7 503.4L632.0 515.5L634.3 527.6L636.6 541.9L638.9 552.7L641.2 564.1L643.5 570.5L645.8 578.7L648.1 587.1L650.4 591.8L652.7 591.0L655.0 594.3L657.3 595.4L659.6 595.7L661.9 595.4L664.2 597.3L666.5 598.3L668.8 598.5L671.1 600.1L673.4 602.8L675.7 604.3L678.0 608.6L680.3 611.2L682.6 615.6L684.9 618.9L687.2 621.0L689.5 620.9L691.8 622.8L694.1 620.9L696.4 624.1L698.7 624.6L701.0 625.5L703.3 625.9L705.6 619.5L707.9 627.0L710.2 627.8L712.5 625.7L714.8 626.1L717.1 627.5L719.4 627.2L721.7 626.5L724.0 627.4L726.3 626.3L728.6 629.0L730.9 626.4L733.2 628.4L735.5 627.1L737.8 626.8L738.9 628.5"/>
<path stroke="#e0006f" d="M112.8 634.0L113.5 633.5L115.8 634.3L118.1 633.9L120.4 635.0L122.7 634.6L125.0 632.8L127.3 634.4L129.6 633.8L131.9 634.0L134.2 634.5L136.5 633.4L138.8 634.4L141.1 633.6L143.4 634.6L145.7 634.1L148.0 635.0L150.3 633.6L152.6 634.5L154.9 634.4L157.2 634.6L159.5 634.0L161.8 634.6L164.1 634.1L166.4 634.1L168.7 632.0L171.0 633.1L173.3 633.6L175.6 633.8L177.9 634.1L180.2 633.5L182.5 633.0L184.8 634.2L187.1 633.3L189.4 633.5L191.7 634.8L194.0 634.3L196.3 634.8L198.6 633.3L200.9 634.8L203.2 634.3L205.5 635.6L207.8 634.5L210.1 635.1L212.4 634.5L214.7 633.9L217.0 633.3L219.3 632.9L221.6 634.4L223.9 633.2L226.2 634.9L228.5 634.1L230.8 633.9L233.1 634.3L235.4 634.4L237.7 634.8L240.0 633.0L242.3 633.1L244.6 633.9L246.9 634.4L249.2 632.7L251.5 635.0L253.8 633.9L256.1 632.9L258.4 634.3L260.7 634.3L263.0 634.1L265.3 634.0L267.6 634.6L269.9 634.8L272.2 634.2L274.5 634.1L276.8 634.0L279.1 633.5L281.4 634.7L283.7 632.9L286.0 634.4L288.3 632.8L290.6 635.5L292.9 633.3L295.2 633.6L297.5 633.6L299.8 633.9L302.1 633.9L304.4 632.8L306.7 633.7L309.0 633.5L311.3 633.9L313.6 634.1L315.9 634.6L318.2 634.9L320.5 634.5L322.8 634.4L325.1 634.8L327.4 633.1L329.7 633.2L332.0 633.5L334.3 633.5L336.6 634.1L338.9 632.9L341.2 634.5L343.5 634.3L345.8 634.3L348.1 633.7L350.4 635.1L352.7 634.8L355.0 633.7L357.3 634.0L359.6 633.0L361.9 632.6L364.2 634.0L366.5 633.5L368.8 632.6L371.1 633.5L373.4 634.5L375.7 632.9L378.0 634.1L380.3 632.6L382.6 634.8L384.9 633.2L387.2 633.7L389.5 633.2L391.8 634.6L394.1 634.3L396.4 633.8L398.7 633.9L401.0 633.7L403.3 633.4L405.6 634.3L407.9 633.0L410.2 633.5L412.5 635.0L414.8 634.1L417.1 632.2L419.4 635.3L421.7 634.0L424.0 637.1L426.3 633.9L428.6 635.0L430.9 633.5L433.2 633.2L435.5 634.7L437.8 634.4L440.1 633.2L442.4 633.7L444.7 634.7L447.0 634.6L449.3 635.5L451.6 633.0L453.9 633.9L456.2 634.0L458.5 631.7L460.8 635.1L463.1 633.2L465.4 634.0L467.7 633.0L470.0 634.0L472.3 633.5L474.6 635.1L476.9 633.8L479.2 633.5L481.5 633.6L483.8 632.1L486.1 634.8L488.4 633.1L490.7 634.8L493.0 632.4L495.3 634.6L497.6 632.5L499.9 633.0L502.2 634.8L504.5 634.0L506.8 633.6L509.1 634.4L511.4 633.8L513.7 634.0L516.0 634.8L518.3 634.8L520.6 633.4L522.9 635.0L525.2 634.0L527.5 634.1L529.8 634.4L532.1 633.7L534.4 634.1L536.7 632.8L539.0 634.6L541.3 634.5L543.6 634.3L545.9 632.3L548.2 634.0L550.5 632.6L552.8 634.3L555.1 634.1L557.4 633.6L559.7 633.6L562.0 635.1L564.3 632.7L566.6 633.3L568.9 633.9L571.2 634.1L573.5 633.2L575.8 634.0L578.1 633.5L580.4 635.0L582.7 634.4L585.0 633.8L587.3 630.8L589.6 630.3L591.9 626.0L594.2 619.9L596.5 619.8L598.8 615.7L601.1 613.2L603.4 604.5L605.7 596.5L608.0 582.5L610.3 571.0L612.6 558.5L614.9 547.6L617.2 538.6L619.5 525.1L621.8 502.7L624.1 479.9L626.4 464.9L628.7 444.7L631.0 425.8L633.3 401.1L635.6 379.4L637.9 355.0L640.2 371.7L642.5 382.2L644.8 396.7L647.1 427.9L649.4 455.5L651.7 487.4L654.0 514.3L656.3 536.5L658.6 550.4L660.9 564.9L663.2 574.7L665.5 583.0L667.8 585.7L670.1 591.0L672.4 594.9L674.7 597.6L677.0 581.4L679.3 601.3L681.6 605.6L683.9 609.4L686.2 609.7L688.5 614.2L690.8 618.0L693.1 620.7L695.4 622.0L697.7 619.1L700.0 624.2L702.3 623.5L704.6 623.4L706.9 623.9L709.2 624.5L711.5 623.6L713.8 624.9L716.1 623.1L718.4 626.9L720.7 626.7L723.0 623.9L725.3 626.1L727.6 625.8L729.9 627.0L732.2 627.4L734.5 624.7L736.8 628.7L738.9 627.2"/>
</g>
<g fill="none" stroke-width="2.70" stroke-linejoin="round" stroke-linecap="round">
<path stroke="#e60a0a" d="M112.8 944.0L114.9 945.0L117.2 943.9L119.5 943.3L121.8 941.1L124.1 937.1L126.4 938.8L128.7 935.7L131.0 939.6L133.3 934.9L135.6 928.0L137.9 930.8L140.2 933.0L142.5 927.8L144.8 930.0L147.1 928.1L149.4 926.2L151.7 923.4L154.0 925.0L156.3 919.4L158.6 922.0L160.9 915.0L163.2 920.8L165.5 919.0L167.8 913.1L170.1 915.0L172.4 917.9L174.7 914.5L177.0 914.9L179.3 908.3L181.6 914.5L183.9 906.5L186.2 909.5L188.5 907.5L190.8 905.9L193.1 903.0L195.4 904.4L197.7 904.7L200.0 899.2L202.3 898.6L204.6 903.4L206.9 896.0L209.2 902.7L211.5 893.6L213.8 898.9L216.1 894.6L218.4 902.9L220.7 898.4L223.0 900.6L225.3 904.4L227.6 908.9L229.9 900.5L232.2 908.4L234.5 915.5L236.8 904.8L239.1 910.4L241.4 911.8L243.7 908.9L246.0 910.9L248.3 913.2L250.6 915.2L252.9 914.2L255.2 916.5L257.5 914.3L259.8 916.9L262.1 918.1L264.4 921.6L266.7 919.3L269.0 915.1L271.3 919.1L273.6 924.5L275.9 920.1L278.2 921.2L280.5 919.3L282.8 921.3L285.1 923.4L287.4 925.3L289.7 926.3L292.0 926.0L294.3 921.9L296.6 927.1L298.9 926.2L301.2 926.1L303.5 926.3L305.8 930.5L308.1 926.2L310.4 926.1L312.7 927.7L315.0 927.2L317.3 932.0L319.6 921.8L321.9 931.5L324.2 928.5L326.5 930.2L328.8 930.7L331.1 927.2L333.4 932.7L335.7 927.5L338.0 931.3L340.3 931.0L342.6 931.4L344.9 932.4L347.2 934.0L349.5 927.2L351.8 932.4L354.1 930.6L356.4 930.9L358.7 933.8L361.0 936.3L363.3 930.6L365.6 937.7L367.9 930.6L370.2 934.8L372.5 932.2L374.8 933.5L377.1 938.1L379.4 933.5L381.7 936.6L384.0 935.4L386.3 934.6L388.6 933.2L390.9 939.3L393.2 938.5L395.5 935.6L397.8 939.4L400.1 933.9L402.4 936.2L404.7 936.6L407.0 935.7L409.3 936.6L411.6 937.1L413.9 937.8L416.2 933.8L418.5 937.3L420.8 936.5L423.1 939.2L425.4 940.2L427.7 936.6L430.0 938.7L432.3 935.0L434.6 941.9L436.9 936.8L439.2 940.3L441.5 936.5L443.8 937.1L446.1 940.6L448.4 938.8L450.7 942.8L453.0 937.7L455.3 937.7L457.6 940.5L459.9 938.1L462.2 942.9L464.5 937.1L466.8 936.0L469.1 943.0L471.4 941.3L473.7 936.1L476.0 939.7L478.3 937.6L480.6 939.6L482.9 939.6L485.2 937.7L487.5 938.8L489.8 940.0L492.1 942.4L494.4 944.9L496.7 939.5L499.0 938.6L501.3 939.3L503.6 941.6L505.9 938.6L508.2 941.0L510.5 940.0L512.8 938.3L515.1 948.5L517.4 938.6L519.7 937.9L522.0 941.5L524.3 941.0L526.6 941.0L528.9 937.9L531.2 938.7L533.5 932.3L535.8 940.5L538.1 938.0L540.4 942.6L542.7 938.5L545.0 942.2L547.3 940.9L549.6 940.8L551.9 938.7L554.2 943.1L556.5 941.9L558.8 941.7L561.1 939.5L563.4 942.1L565.7 945.3L568.0 939.4L570.3 939.4L572.6 942.4L574.9 939.7L577.2 944.7L579.5 939.6L581.8 940.0L584.1 939.3L586.4 940.4L588.7 941.3L591.0 941.6L593.3 943.5L595.6 941.8L597.9 940.4L600.2 940.2L602.5 939.7L604.8 939.6L607.1 940.5L609.4 941.1L611.7 940.9L614.0 943.9L616.3 941.7L618.6 943.7L620.9 937.9L623.2 940.8L625.5 943.0L627.8 942.2L630.1 937.6L632.4 944.6L634.7 937.4L637.0 938.8L639.3 939.8L641.6 942.8L643.9 939.9L646.2 943.6L648.5 939.7L650.8 939.6L653.1 940.8L655.4 944.1L657.7 939.5L660.0 942.6L662.3 941.2L664.6 943.3L666.9 943.3L669.2 939.9L671.5 941.1L673.8 945.7L676.1 939.6L678.4 944.1L680.7 942.0L683.0 945.7L685.3 938.6L687.6 943.8L689.9 942.0L692.2 941.3L694.5 943.7L696.8 942.9L699.1 941.2L701.4 945.0L703.7 940.4L706.0 946.3L708.3 940.0L710.6 941.2L712.9 942.1L715.2 944.5L717.5 941.1L719.8 943.1L722.1 944.6L724.4 946.0L726.7 946.4L729.0 945.5L731.3 946.0L733.6 942.2L735.9 946.0L738.2 944.0L738.9 944.5"/>
<path stroke="#0af00a" d="M112.8 947.9L113.4 953.3L115.7 954.0L118.0 950.9L120.3 953.0L122.6 950.1L124.9 952.9L127.2 950.2L129.5 954.1L131.8 950.3L134.1 950.4L136.4 949.9L138.7 950.0L141.0 948.7L143.3 951.0L145.6 948.5L147.9 950.7L150.2 951.0L152.5 947.8L154.8 947.6L157.1 949.0L159.4 948.9L161.7 949.0L164.0 947.5L166.3 947.2L168.6 944.7L170.9 946.6L173.2 946.7L175.5 944.1L177.8 943.8L180.1 941.4L182.4 937.0L184.7 943.3L187.0 939.0L189.3 940.6L191.6 937.8L193.9 939.4L196.2 937.0L198.5 937.5L200.8 935.0L203.1 936.3L205.4 929.7L207.7 929.3L210.0 931.7L212.3 926.3L214.6 920.4L216.9 921.2L219.2 918.7L221.5 913.6L223.8 912.6L226.1 907.8L228.4 910.4L230.7 906.9L233.0 907.0L235.3 912.6L237.6 901.8L239.9 904.6L242.2 899.1L244.5 898.9L246.8 894.9L249.1 893.8L251.4 889.5L253.7 892.0L256.0 896.2L258.3 896.1L260.6 893.1L262.9 894.4L265.2 883.7L267.5 895.1L269.8 893.0L272.1 892.9L274.4 891.1L276.7 894.2L279.0 892.9L281.3 900.5L283.6 895.5L285.9 902.2L288.2 896.9L290.5 905.4L292.8 899.5L295.1 902.5L297.4 904.8L299.7 901.9L302.0 903.2L304.3 910.4L306.6 907.5L308.9 912.5L311.2 910.1L313.5 913.2L315.8 914.6L318.1 915.0L320.4 914.2L322.7 917.4L325.0 917.6L327.3 916.6L329.6 917.2L331.9 918.9L334.2 913.8L336.5 920.5L338.8 920.0L341.1 921.8L343.4 919.8L345.7 919.7L348.0 919.5L350.3 924.6L352.6 924.5L354.9 923.1L357.2 924.5L359.5 925.4L361.8 928.6L364.1 921.4L366.4 926.8L368.7 928.8L371.0 925.0L373.3 927.5L375.6 927.0L377.9 930.7L380.2 923.6L382.5 931.8L384.8 926.5L387.1 934.0L389.4 929.6L391.7 930.9L394.0 929.9L396.3 934.8L398.6 927.3L400.9 930.6L403.2 928.4L405.5 932.3L407.8 934.8L410.1 935.0L412.4 932.9L414.7 931.1L417.0 928.7L419.3 934.1L421.6 934.3L423.9 934.4L426.2 936.3L428.5 935.1L430.8 932.5L433.1 937.3L435.4 931.4L437.7 937.2L440.0 933.5L442.3 937.9L444.6 933.3L446.9 938.4L449.2 936.1L451.5 938.1L453.8 933.8L456.1 939.4L458.4 938.5L460.7 935.9L463.0 937.4L465.3 938.5L467.6 937.1L469.9 935.0L472.2 937.3L474.5 939.5L476.8 937.2L479.1 941.9L481.4 936.0L483.7 941.7L486.0 936.9L488.3 937.2L490.6 936.3L492.9 940.5L495.2 943.3L497.5 938.4L499.8 938.0L502.1 939.5L504.4 938.7L506.7 939.8L509.0 939.8L511.3 940.1L513.6 943.5L515.9 940.3L518.2 938.1L520.5 938.1L522.8 941.5L525.1 937.8L527.4 941.9L529.7 941.0L532.0 942.8L534.3 939.7L536.6 940.6L538.9 940.7L541.2 942.9L543.5 937.9L545.8 940.0L548.1 941.6L550.4 935.3L552.7 944.2L555.0 939.7L557.3 941.8L559.6 941.0L561.9 941.4L564.2 942.6L566.5 940.4L568.8 938.9L571.1 943.4L573.4 936.1L575.7 942.0L578.0 941.5L580.3 941.1L582.6 939.8L584.9 938.4L587.2 938.1L589.5 942.0L591.8 940.2L594.1 938.7L596.4 940.1L598.7 938.7L601.0 939.4L603.3 947.5L605.6 940.1L607.9 942.1L610.2 939.1L612.5 938.8L614.8 940.8L617.1 939.4L619.4 941.2L621.7 941.7L624.0 942.0L626.3 939.2L628.6 945.0L630.9 937.7L633.2 940.3L635.5 939.0L637.8 940.6L640.1 939.2L642.4 940.3L644.7 940.8L647.0 941.3L649.3 944.5L651.6 940.4L653.9 941.7L656.2 938.1L658.5 941.8L660.8 939.1L663.1 945.4L665.4 942.6L667.7 939.9L670.0 941.6L672.3 944.2L674.6 939.5L676.9 946.1L679.2 940.9L681.5 944.0L683.8 939.3L686.1 944.8L688.4 943.5L690.7 943.4L693.0 940.6L695.3 945.0L697.6 943.1L699.9 943.4L702.2 940.8L704.5 944.7L706.8 944.0L709.1 942.0L711.4 940.8L713.7 944.7L716.0 943.8L718.3 945.8L720.6 942.4L722.9 948.1L725.2 940.6L727.5 945.2L729.8 943.4L732.1 947.5L734.4 944.6L736.7 946.4L738.9 947.3"/>
<path stroke="#0000e6" d="M112.8 953.4L114.6 952.8L116.9 953.4L119.2 954.5L121.5 952.5L123.8 951.7L126.1 953.7L128.4 952.7L130.7 955.3L133.0 953.1L135.3 956.7L137.6 950.7L139.9 954.7L142.2 953.0L144.5 954.5L146.8 952.3L149.1 952.3L151.4 951.5L153.7 954.6L156.0 952.3L158.3 953.9L160.6 951.3L162.9 955.0L165.2 952.0L167.5 952.1L169.8 953.8L172.1 954.9L174.4 955.0L176.7 952.5L179.0 953.1L181.3 952.7L183.6 953.3L185.9 950.3L188.2 952.1L190.5 953.4L192.8 952.6L195.1 954.3L197.4 952.9L199.7 954.7L202.0 951.9L204.3 953.4L206.6 954.0L208.9 952.9L211.2 948.9L213.5 952.5L215.8 949.6L218.1 955.3L220.4 949.4L222.7 951.5L225.0 947.6L227.3 947.8L229.6 946.9L231.9 948.0L234.2 946.3L236.5 946.8L238.8 943.4L241.1 944.5L243.4 943.1L245.7 943.7L248.0 940.4L250.3 940.7L252.6 938.7L254.9 935.8L257.2 932.9L259.5 936.3L261.8 931.7L264.1 933.1L266.4 936.3L268.7 929.3L271.0 927.6L273.3 922.2L275.6 919.6L277.9 918.5L280.2 918.1L282.5 914.0L284.8 909.9L287.1 911.7L289.4 899.9L291.7 901.1L294.0 895.1L296.3 892.9L298.6 890.6L300.9 889.9L303.2 887.5L305.5 888.7L307.8 879.8L310.1 885.7L312.4 880.9L314.7 880.9L317.0 878.4L319.3 874.8L321.6 879.3L323.9 883.6L326.2 879.8L328.5 885.0L330.8 881.8L333.1 887.1L335.4 894.4L337.7 889.8L340.0 888.6L342.3 893.8L344.6 900.5L346.9 893.1L349.2 895.0L351.5 903.3L353.8 903.0L356.1 900.6L358.4 903.8L360.7 904.1L363.0 903.2L365.3 907.9L367.6 901.6L369.9 909.3L372.2 905.8L374.5 910.8L376.8 911.0L379.1 916.5L381.4 909.8L383.7 915.0L386.0 911.7L388.3 916.5L390.6 915.3L392.9 917.4L395.2 917.3L397.5 924.6L399.8 920.5L402.1 920.1L404.4 920.5L406.7 922.5L409.0 922.5L411.3 922.8L413.6 921.7L415.9 922.9L418.2 924.9L420.5 927.7L422.8 925.9L425.1 928.0L427.4 921.4L429.7 934.0L432.0 922.8L434.3 927.9L436.6 925.4L438.9 927.7L441.2 930.5L443.5 933.3L445.8 927.0L448.1 924.6L450.4 931.4L452.7 933.7L455.0 930.8L457.3 933.0L459.6 928.1L461.9 931.8L464.2 930.3L466.5 932.5L468.8 932.8L471.1 930.1L473.4 932.0L475.7 930.4L478.0 929.4L480.3 934.5L482.6 926.9L484.9 936.2L487.2 930.2L489.5 935.4L491.8 929.2L494.1 934.2L496.4 929.2L498.7 936.5L501.0 933.3L503.3 935.0L505.6 929.8L507.9 937.1L510.2 934.3L512.5 932.8L514.8 938.0L517.1 930.8L519.4 936.4L521.7 934.3L524.0 934.1L526.3 935.3L528.6 934.1L530.9 937.7L533.2 935.5L535.5 930.3L537.8 926.9L540.1 934.8L542.4 931.0L544.7 937.7L547.0 933.1L549.3 935.2L551.6 933.3L553.9 934.8L556.2 934.4L558.5 932.8L560.8 933.8L563.1 934.2L565.4 930.5L567.7 937.8L570.0 930.3L572.3 934.6L574.6 935.0L576.9 933.9L579.2 934.6L581.5 939.9L583.8 933.5L586.1 937.7L588.4 933.5L590.7 935.5L593.0 935.1L595.3 934.5L597.6 933.4L599.9 936.5L602.2 933.9L604.5 936.3L606.8 931.0L609.1 936.3L611.4 935.9L613.7 936.3L616.0 938.9L618.3 935.3L620.6 933.8L622.9 934.6L625.2 935.6L627.5 936.6L629.8 934.1L632.1 936.0L634.4 935.1L636.7 935.5L639.0 933.4L641.3 939.1L643.6 933.3L645.9 937.4L648.2 937.0L650.5 939.2L652.8 935.6L655.1 936.0L657.4 937.0L659.7 937.0L662.0 935.2L664.3 936.3L666.6 932.9L668.9 942.0L671.2 937.3L673.5 937.9L675.8 936.0L678.1 939.7L680.4 944.1L682.7 940.0L685.0 943.1L687.3 944.4L689.6 938.7L691.9 945.2L694.2 940.7L696.5 944.1L698.8 941.2L701.1 942.0L703.4 939.6L705.7 943.9L708.0 944.6L710.3 945.9L712.6 939.7L714.9 945.8L717.2 941.3L719.5 945.1L721.8 942.3L724.1 946.5L726.4 942.2L728.7 948.4L731.0 941.8L733.3 947.4L735.6 941.4L737.9 944.6L738.9 944.2"/>
<path stroke="#10f0f0" d="M112.8 952.4L115.0 953.5L117.3 954.8L119.6 953.7L121.9 955.3L124.2 952.4L126.5 952.8L128.8 953.1L131.1 952.9L133.4 951.0L135.7 952.6L138.0 951.9L140.3 954.6L142.6 952.8L144.9 953.4L147.2 954.2L149.5 953.2L151.8 952.4L154.1 952.8L156.4 953.0L158.7 953.2L161.0 950.6L163.3 955.4L165.6 951.8L167.9 953.9L170.2 952.0L172.5 952.5L174.8 951.9L177.1 953.9L179.4 952.4L181.7 953.7L184.0 953.5L186.3 954.2L188.6 952.4L190.9 954.7L193.2 949.1L195.5 952.9L197.8 951.5L200.1 953.8L202.4 950.9L204.7 951.9L207.0 952.4L209.3 954.7L211.6 952.5L213.9 952.8L216.2 953.2L218.5 954.9L220.8 953.0L223.1 953.7L225.4 953.3L227.7 953.4L230.0 950.1L232.3 956.4L234.6 950.3L236.9 955.1L239.2 951.1L241.5 952.8L243.8 953.4L246.1 952.7L248.4 952.6L250.7 950.8L253.0 952.7L255.3 953.1L257.6 951.9L259.9 953.2L262.2 952.8L264.5 951.1L266.8 952.4L269.1 953.7L271.4 950.9L273.7 950.2L276.0 951.0L278.3 953.1L280.6 951.7L282.9 951.0L285.2 951.7L287.5 948.3L289.8 949.9L292.1 947.0L294.4 951.2L296.7 939.4L299.0 945.1L301.3 942.8L303.6 947.4L305.9 945.0L308.2 942.9L310.5 942.4L312.8 934.2L315.1 940.4L317.4 933.2L319.7 933.0L322.0 934.8L324.3 933.8L326.6 929.1L328.9 929.7L331.2 925.7L333.5 921.0L335.8 916.9L338.1 909.6L340.4 909.6L342.7 899.7L345.0 900.0L347.3 897.9L349.6 893.2L351.9 891.3L354.2 892.1L356.5 886.5L358.8 879.4L361.1 876.8L363.4 868.9L365.7 864.9L368.0 864.6L370.3 859.0L372.6 857.3L374.9 857.7L377.2 864.6L379.5 864.7L381.8 869.4L384.1 869.6L386.4 870.3L388.7 871.1L391.0 876.0L393.3 876.6L395.6 880.3L397.9 884.1L400.2 878.5L402.5 888.9L404.8 887.0L407.1 890.7L409.4 890.9L411.7 892.8L414.0 894.7L416.3 895.9L418.6 899.2L420.9 901.1L423.2 901.0L425.5 906.0L427.8 904.5L430.1 907.6L432.4 910.2L434.7 910.6L437.0 910.3L439.3 910.8L441.6 912.2L443.9 913.6L446.2 916.0L448.5 919.1L450.8 910.9L453.1 922.3L455.4 915.3L457.7 921.3L460.0 917.1L462.3 924.8L464.6 918.3L466.9 924.9L469.2 923.0L471.5 923.1L473.8 923.2L476.1 923.6L478.4 923.0L480.7 926.7L483.0 922.1L485.3 929.2L487.6 929.0L489.9 924.9L492.2 925.1L494.5 930.5L496.8 925.9L499.1 928.6L501.4 924.3L503.7 929.7L506.0 932.0L508.3 929.1L510.6 929.9L512.9 928.8L515.2 932.0L517.5 933.8L519.8 930.3L522.1 928.9L524.4 929.0L526.7 933.1L529.0 927.8L531.3 930.3L533.6 933.7L535.9 929.5L538.2 932.2L540.5 935.8L542.8 932.4L545.1 934.0L547.4 934.3L549.7 933.5L552.0 929.2L554.3 930.7L556.6 929.5L558.9 936.4L561.2 929.0L563.5 934.2L565.8 929.5L568.1 932.9L570.4 930.7L572.7 932.6L575.0 933.6L577.3 932.7L579.6 931.4L581.9 934.8L584.2 928.9L586.5 933.4L588.8 932.2L591.1 933.0L593.4 923.9L595.7 934.8L598.0 928.7L600.3 933.5L602.6 930.4L604.9 934.4L607.2 930.5L609.5 934.2L611.8 931.4L614.1 936.0L616.4 934.3L618.7 934.6L621.0 935.3L623.3 935.4L625.6 930.4L627.9 932.9L630.2 933.1L632.5 936.3L634.8 930.0L637.1 936.3L639.4 929.5L641.7 936.5L644.0 930.7L646.3 938.5L648.6 933.1L650.9 941.8L653.2 932.7L655.5 933.5L657.8 935.6L660.1 930.9L662.4 935.8L664.7 938.2L667.0 935.8L669.3 933.1L671.6 936.4L673.9 938.7L676.2 936.3L678.5 937.5L680.8 941.0L683.1 943.2L685.4 938.4L687.7 939.3L690.0 942.8L692.3 943.1L694.6 940.5L696.9 940.7L699.2 946.1L701.5 942.0L703.8 942.9L706.1 944.3L708.4 941.8L710.7 942.9L713.0 942.6L715.3 945.8L717.6 945.0L719.9 947.4L722.2 937.7L724.5 946.8L726.8 942.8L729.1 947.3L731.4 945.2L733.7 943.1L736.0 945.2L738.3 948.4L738.9 946.9"/>
<path stroke="#e60aeb" d="M112.8 954.2L113.5 951.9L115.8 953.6L118.1 952.8L120.4 953.6L122.7 952.2L125.0 956.3L127.3 950.4L129.6 951.3L131.9 953.1L134.2 953.9L136.5 951.8L138.8 953.6L141.1 955.5L143.4 954.2L145.7 953.5L148.0 953.0L150.3 952.6L152.6 953.4L154.9 953.9L157.2 953.8L159.5 953.3L161.8 953.0L164.1 950.3L166.4 953.4L168.7 952.2L171.0 955.2L173.3 951.5L175.6 954.4L177.9 951.7L180.2 954.2L182.5 952.5L184.8 955.0L187.1 951.4L189.4 954.6L191.7 953.2L194.0 952.7L196.3 951.9L198.6 953.9L200.9 951.1L203.2 954.1L205.5 951.8L207.8 953.5L210.1 955.3L212.4 953.5L214.7 954.0L217.0 954.1L219.3 950.4L221.6 954.6L223.9 954.3L226.2 953.8L228.5 952.3L230.8 952.4L233.1 953.3L235.4 954.7L237.7 952.2L240.0 954.2L242.3 954.9L244.6 952.6L246.9 952.4L249.2 955.3L251.5 950.3L253.8 953.6L256.1 953.7L258.4 953.0L260.7 950.6L263.0 954.9L265.3 953.1L267.6 951.1L269.9 953.7L272.2 953.0L274.5 953.8L276.8 954.7L279.1 951.3L281.4 953.0L283.7 950.8L286.0 954.3L288.3 952.6L290.6 955.0L292.9 950.5L295.2 951.8L297.5 952.9L299.8 953.3L302.1 952.2L304.4 955.4L306.7 950.6L309.0 953.8L311.3 953.3L313.6 955.9L315.9 952.4L318.2 952.9L320.5 952.0L322.8 952.4L325.1 952.3L327.4 951.6L329.7 951.6L332.0 953.3L334.3 952.8L336.6 952.2L338.9 951.4L341.2 953.1L343.5 953.1L345.8 952.7L348.1 954.6L350.4 952.1L352.7 952.4L355.0 954.1L357.3 956.0L359.6 951.2L361.9 949.7L364.2 950.8L366.5 947.3L368.8 951.7L371.1 946.6L373.4 947.6L375.7 944.9L378.0 945.5L380.3 947.2L382.6 939.1L384.9 939.3L387.2 938.7L389.5 933.1L391.8 934.5L394.1 928.6L396.4 925.0L398.7 918.9L401.0 916.4L403.3 908.0L405.6 906.0L407.9 899.0L410.2 894.8L412.5 889.6L414.8 888.7L417.1 875.3L419.4 870.1L421.7 864.9L424.0 860.0L426.3 845.9L428.6 845.7L430.9 840.2L433.2 831.5L435.5 832.9L437.8 836.7L440.1 837.5L442.4 842.8L444.7 848.5L447.0 851.0L449.3 852.1L451.6 856.2L453.9 858.9L456.2 863.3L458.5 866.6L460.8 866.1L463.1 870.2L465.4 874.7L467.7 876.0L470.0 884.3L472.3 884.1L474.6 886.3L476.9 894.8L479.2 891.4L481.5 899.1L483.8 897.3L486.1 902.4L488.4 902.4L490.7 899.7L493.0 903.1L495.3 903.1L497.6 906.4L499.9 903.7L502.2 908.0L504.5 911.2L506.8 911.0L509.1 910.4L511.4 910.4L513.7 911.7L516.0 915.8L518.3 915.9L520.6 916.7L522.9 919.6L525.2 917.5L527.5 922.6L529.8 921.3L532.1 921.7L534.4 924.2L536.7 921.7L539.0 926.3L541.3 923.6L543.6 925.0L545.9 923.3L548.2 925.2L550.5 923.7L552.8 925.0L555.1 923.8L557.4 929.7L559.7 926.3L562.0 927.9L564.3 928.3L566.6 926.9L568.9 928.6L571.2 929.7L573.5 932.7L575.8 927.8L578.1 928.4L580.4 929.3L582.7 929.2L585.0 929.9L587.3 930.5L589.6 931.9L591.9 930.1L594.2 932.0L596.5 931.3L598.8 933.5L601.1 929.2L603.4 930.9L605.7 927.3L608.0 927.4L610.3 930.6L612.6 928.6L614.9 927.5L617.2 931.1L619.5 930.5L621.8 929.8L624.1 933.8L626.4 930.1L628.7 929.1L631.0 931.9L633.3 929.6L635.6 929.9L637.9 929.1L640.2 933.8L642.5 930.2L644.8 927.6L647.1 932.0L649.4 934.4L651.7 929.2L654.0 934.7L656.3 930.9L658.6 932.3L660.9 932.0L663.2 935.0L665.5 932.8L667.8 936.2L670.1 933.3L672.4 934.7L674.7 935.0L677.0 936.2L679.3 938.1L681.6 935.9L683.9 934.5L686.2 940.0L688.5 938.4L690.8 941.0L693.1 938.7L695.4 939.6L697.7 940.4L700.0 939.9L702.3 944.4L704.6 942.8L706.9 940.3L709.2 944.4L711.5 942.2L713.8 943.8L716.1 945.8L718.4 946.3L720.7 942.9L723.0 946.7L725.3 939.7L727.6 945.2L729.9 943.5L732.2 944.3L734.5 946.5L736.8 946.4L738.9 944.7"/>
<path stroke="#7f00f0" d="M112.8 953.0L113.0 952.7L115.3 952.7L117.6 954.1L119.9 952.7L122.2 952.4L124.5 952.4L126.8 953.2L129.1 952.6L131.4 953.2L133.7 953.5L136.0 953.3L138.3 955.5L140.6 951.6L142.9 953.4L145.2 951.4L147.5 953.3L149.8 953.8L152.1 952.8L154.4 953.5L156.7 952.8L159.0 952.7L161.3 953.7L163.6 952.2L165.9 955.0L168.2 953.4L170.5 953.7L172.8 951.7L175.1 952.2L177.4 951.8L179.7 955.0L182.0 952.6L184.3 953.2L186.6 951.0L188.9 953.9L191.2 952.9L193.5 953.9L195.8 951.8L198.1 953.0L200.4 952.4L202.7 953.3L205.0 953.5L207.3 954.7L209.6 951.8L211.9 954.2L214.2 952.3L216.5 953.2L218.8 954.1L221.1 952.1L223.4 953.5L225.7 952.1L228.0 954.6L230.3 952.1L232.6 953.4L234.9 953.0L237.2 952.2L239.5 952.4L241.8 951.9L244.1 952.9L246.4 951.9L248.7 952.6L251.0 952.2L253.3 953.6L255.6 951.4L257.9 952.9L260.2 953.3L262.5 953.1L264.8 952.7L267.1 954.3L269.4 952.8L271.7 952.9L274.0 958.4L276.3 950.7L278.6 953.8L280.9 952.9L283.2 953.7L285.5 953.0L287.8 953.5L290.1 952.5L292.4 952.4L294.7 953.3L297.0 952.1L299.3 952.7L301.6 953.1L303.9 953.4L306.2 953.5L308.5 952.9L310.8 953.8L313.1 953.2L315.4 952.7L317.7 953.1L320.0 953.6L322.3 954.0L324.6 952.5L326.9 953.2L329.2 952.5L331.5 952.5L333.8 952.2L336.1 954.2L338.4 951.7L340.7 953.6L343.0 951.8L345.3 953.6L347.6 953.4L349.9 953.6L352.2 951.6L354.5 953.2L356.8 952.5L359.1 952.6L361.4 953.3L363.7 952.3L366.0 953.0L368.3 951.9L370.6 952.5L372.9 953.6L375.2 952.4L377.5 953.8L379.8 952.2L382.1 954.9L384.4 952.1L386.7 952.1L389.0 951.5L391.3 961.1L393.6 953.4L395.9 952.6L398.2 952.0L400.5 953.5L402.8 952.9L405.1 953.1L407.4 953.3L409.7 951.4L412.0 952.5L414.3 951.9L416.6 952.5L418.9 951.9L421.2 952.8L423.5 951.9L425.8 954.1L428.1 952.9L430.4 950.3L432.7 954.5L435.0 949.0L437.3 954.3L439.6 951.4L441.9 951.5L444.2 947.9L446.5 949.5L448.8 947.5L451.1 949.2L453.4 944.8L455.7 945.5L458.0 943.9L460.3 943.7L462.6 932.8L464.9 931.2L467.2 927.8L469.5 922.9L471.8 915.8L474.1 909.9L476.4 903.1L478.7 895.5L481.0 884.6L483.3 878.6L485.6 862.0L487.9 861.1L490.2 852.1L492.5 843.0L494.8 839.0L497.1 822.6L499.4 815.2L501.7 818.0L504.0 805.2L506.3 811.8L508.6 812.9L510.9 814.0L513.2 817.0L515.5 821.9L517.8 826.3L520.1 833.1L522.4 834.1L524.7 838.3L527.0 842.2L529.3 849.8L531.6 854.5L533.9 864.4L536.2 868.0L538.5 873.8L540.8 875.5L543.1 879.9L545.4 882.2L547.7 887.1L550.0 886.6L552.3 891.6L554.6 890.6L556.9 895.1L559.2 896.3L561.5 900.3L563.8 900.1L566.1 903.3L568.4 903.0L570.7 907.1L573.0 905.3L575.3 909.2L577.6 907.2L579.9 909.7L582.2 910.9L584.5 914.8L586.8 911.2L589.1 915.1L591.4 914.4L593.7 917.2L596.0 917.0L598.3 917.8L600.6 917.2L602.9 921.9L605.2 919.9L607.5 923.3L609.8 920.9L612.1 924.4L614.4 923.4L616.7 924.6L619.0 927.3L621.3 926.7L623.6 925.4L625.9 929.0L628.2 926.3L630.5 927.8L632.8 927.6L635.1 928.5L637.4 929.9L639.7 929.4L642.0 928.9L644.3 930.1L646.6 931.6L648.9 933.6L651.2 930.2L653.5 930.3L655.8 932.7L658.1 933.1L660.4 933.4L662.7 934.0L665.0 933.2L667.3 934.0L669.6 934.1L671.9 938.3L674.2 935.2L676.5 938.2L678.8 937.1L681.1 939.9L683.4 940.3L685.7 940.5L688.0 941.4L690.3 939.5L692.6 941.6L694.9 942.1L697.2 942.7L699.5 942.3L701.8 940.6L704.1 945.1L706.4 942.5L708.7 944.7L711.0 943.1L713.3 945.7L715.6 945.9L717.9 943.7L720.2 944.7L722.5 944.4L724.8 947.4L727.1 946.1L729.4 944.4L731.7 945.7L734.0 945.1L736.3 943.8L738.6 947.2L738.9 944.8"/>
<path stroke="#80820f" d="M112.8 952.8L113.3 954.0L115.6 953.1L117.9 952.9L120.2 951.7L122.5 953.4L124.8 954.0L127.1 951.2L129.4 953.1L131.7 952.4L134.0 952.7L136.3 954.6L138.6 953.4L140.9 954.3L143.2 954.8L145.5 952.2L147.8 952.9L150.1 953.0L152.4 954.7L154.7 953.6L157.0 953.8L159.3 951.4L161.6 954.9L163.9 952.5L166.2 952.1L168.5 953.6L170.8 953.2L173.1 953.0L175.4 954.3L177.7 952.2L180.0 952.4L182.3 951.7L184.6 953.8L186.9 952.6L189.2 951.9L191.5 953.6L193.8 954.3L196.1 953.1L198.4 952.8L200.7 951.3L203.0 953.8L205.3 952.8L207.6 952.6L209.9 953.1L212.2 953.7L214.5 951.5L216.8 955.1L219.1 954.3L221.4 952.3L223.7 953.1L226.0 953.7L228.3 953.6L230.6 954.1L232.9 951.7L235.2 954.4L237.5 953.3L239.8 953.8L242.1 953.3L244.4 954.1L246.7 952.5L249.0 953.9L251.3 954.1L253.6 954.4L255.9 951.8L258.2 952.9L260.5 953.1L262.8 952.7L265.1 952.9L267.4 952.1L269.7 953.2L272.0 952.5L274.3 951.4L276.6 953.3L278.9 953.5L281.2 953.9L283.5 952.9L285.8 954.8L288.1 953.2L290.4 952.1L292.7 952.6L295.0 953.6L297.3 952.9L299.6 953.0L301.9 951.3L304.2 953.1L306.5 952.7L308.8 953.3L311.1 953.6L313.4 952.2L315.7 952.2L318.0 955.0L320.3 950.8L322.6 955.1L324.9 952.0L327.2 953.9L329.5 953.3L331.8 952.7L334.1 953.7L336.4 952.9L338.7 951.0L341.0 952.8L343.3 953.5L345.6 952.2L347.9 953.5L350.2 952.6L352.5 951.1L354.8 953.3L357.1 954.1L359.4 953.5L361.7 952.4L364.0 954.0L366.3 953.6L368.6 953.2L370.9 953.0L373.2 953.5L375.5 952.1L377.8 955.3L380.1 952.5L382.4 954.2L384.7 952.7L387.0 953.6L389.3 951.5L391.6 951.5L393.9 952.6L396.2 953.3L398.5 953.0L400.8 952.3L403.1 951.3L405.4 953.7L407.7 950.7L410.0 954.4L412.3 951.9L414.6 954.5L416.9 952.3L419.2 953.4L421.5 952.1L423.8 954.0L426.1 951.6L428.4 953.5L430.7 955.1L433.0 952.1L435.3 952.5L437.6 952.4L439.9 952.1L442.2 951.1L444.5 953.2L446.8 952.8L449.1 953.1L451.4 953.0L453.7 953.0L456.0 952.9L458.3 952.5L460.6 952.2L462.9 952.4L465.2 954.7L467.5 952.6L469.8 951.7L472.1 952.6L474.4 952.8L476.7 953.7L479.0 951.7L481.3 950.3L483.6 951.9L485.9 947.5L488.2 950.5L490.5 947.6L492.8 947.3L495.1 941.9L497.4 941.8L499.7 940.4L502.0 937.0L504.3 931.3L506.6 928.0L508.9 919.5L511.2 911.3L513.5 903.8L515.8 894.5L518.1 884.7L520.4 875.7L522.7 869.9L525.0 860.6L527.3 852.8L529.6 843.1L531.9 827.7L534.2 815.0L536.5 802.8L538.8 792.4L541.1 788.0L543.4 785.3L545.7 779.1L548.0 786.4L550.3 784.3L552.6 792.0L554.9 799.0L557.2 807.1L559.5 814.3L561.8 824.4L564.1 832.3L566.4 841.7L568.7 848.5L571.0 853.1L573.3 857.2L575.6 863.0L577.9 864.8L580.2 869.1L582.5 875.5L584.8 882.4L587.1 881.0L589.4 887.7L591.7 889.0L594.0 892.3L596.3 893.6L598.6 900.1L600.9 896.9L603.2 903.4L605.5 903.7L607.8 907.1L610.1 908.3L612.4 911.3L614.7 908.7L617.0 913.2L619.3 910.7L621.6 914.4L623.9 916.9L626.2 919.6L628.5 918.1L630.8 921.3L633.1 918.3L635.4 921.0L637.7 920.3L640.0 922.3L642.3 923.8L644.6 922.3L646.9 925.0L649.2 927.1L651.5 924.8L653.8 925.4L656.1 931.0L658.4 928.1L660.7 929.3L663.0 926.8L665.3 927.8L667.6 929.9L669.9 930.4L672.2 933.5L674.5 928.1L676.8 932.5L679.1 934.8L681.4 936.4L683.7 936.8L686.0 935.3L688.3 938.4L690.6 936.2L692.9 939.8L695.2 941.1L697.5 940.6L699.8 940.7L702.1 943.3L704.4 943.4L706.7 943.9L709.0 945.8L711.3 943.0L713.6 943.7L715.9 942.9L718.2 944.6L720.5 946.3L722.8 943.8L725.1 944.4L727.4 945.3L729.7 944.3L732.0 947.1L734.3 944.4L736.6 944.8L738.9 944.2"/>
<path stroke="#00006e" d="M112.8 952.8L113.5 952.1L115.8 953.5L118.1 952.6L120.4 953.8L122.7 952.7L125.0 952.7L127.3 952.9L129.6 952.9L131.9 953.0L134.2 953.0L136.5 953.0L138.8 952.9L141.1 953.6L143.4 953.6L145.7 953.1L148.0 953.5L150.3 953.8L152.6 952.1L154.9 953.1L157.2 953.5L159.5 953.8L161.8 952.5L164.1 952.3L166.4 953.5L168.7 952.0L171.0 954.1L173.3 952.3L175.6 953.0L177.9 953.9L180.2 953.8L182.5 951.9L184.8 953.6L187.1 952.5L189.4 953.5L191.7 954.1L194.0 953.1L196.3 953.2L198.6 952.9L200.9 951.9L203.2 954.0L205.5 953.4L207.8 953.8L210.1 953.1L212.4 954.4L214.7 952.1L217.0 953.4L219.3 952.7L221.6 953.5L223.9 953.3L226.2 952.6L228.5 952.8L230.8 952.4L233.1 953.0L235.4 953.1L237.7 952.3L240.0 953.4L242.3 952.9L244.6 953.9L246.9 952.3L249.2 953.6L251.5 951.0L253.8 955.0L256.1 953.2L258.4 952.7L260.7 951.9L263.0 953.3L265.3 952.6L267.6 953.1L269.9 953.7L272.2 953.7L274.5 954.0L276.8 953.3L279.1 953.9L281.4 952.4L283.7 953.6L286.0 952.7L288.3 953.1L290.6 952.3L292.9 953.4L295.2 954.1L297.5 952.4L299.8 953.2L302.1 951.8L304.4 953.3L306.7 953.6L309.0 954.3L311.3 952.7L313.6 953.7L315.9 952.0L318.2 951.1L320.5 951.5L322.8 953.2L325.1 953.1L327.4 953.1L329.7 952.5L332.0 953.2L334.3 952.7L336.6 955.0L338.9 951.8L341.2 952.6L343.5 954.4L345.8 954.0L348.1 952.0L350.4 952.8L352.7 953.0L355.0 953.1L357.3 952.2L359.6 953.6L361.9 953.5L364.2 953.2L366.5 952.7L368.8 953.2L371.1 953.5L373.4 953.3L375.7 953.9L378.0 953.0L380.3 951.8L382.6 953.2L384.9 953.0L387.2 952.3L389.5 952.0L391.8 953.1L394.1 953.5L396.4 947.8L398.7 954.0L401.0 953.4L403.3 952.6L405.6 952.6L407.9 953.7L410.2 953.6L412.5 951.1L414.8 954.2L417.1 952.3L419.4 954.4L421.7 951.3L424.0 954.7L426.3 951.8L428.6 952.8L430.9 949.9L433.2 953.6L435.5 953.3L437.8 953.5L440.1 952.3L442.4 954.6L444.7 951.5L447.0 954.5L449.3 951.0L451.6 954.3L453.9 952.5L456.2 953.1L458.5 952.7L460.8 953.9L463.1 952.0L465.4 952.7L467.7 952.2L470.0 953.9L472.3 952.9L474.6 951.1L476.9 951.8L479.2 953.9L481.5 952.8L483.8 952.9L486.1 951.4L488.4 953.5L490.7 953.8L493.0 953.7L495.3 951.3L497.6 953.6L499.9 952.7L502.2 953.4L504.5 953.7L506.8 951.6L509.1 951.6L511.4 953.3L513.7 951.6L516.0 953.8L518.3 953.3L520.6 951.9L522.9 952.7L525.2 954.0L527.5 951.3L529.8 951.8L532.1 949.4L534.4 951.6L536.7 948.0L539.0 947.6L541.3 944.5L543.6 944.7L545.9 942.1L548.2 938.8L550.5 930.4L552.8 930.3L555.1 922.0L557.4 913.9L559.7 904.9L562.0 897.4L564.3 889.5L566.6 876.7L568.9 866.7L571.2 858.4L573.5 843.5L575.8 833.7L578.1 816.0L580.4 808.4L582.7 793.5L585.0 782.4L587.3 771.3L589.6 761.0L591.9 757.0L594.2 750.7L596.5 742.9L598.8 747.3L601.1 755.1L603.4 766.2L605.7 771.8L608.0 779.7L610.3 785.0L612.6 793.9L614.9 802.0L617.2 812.7L619.5 818.9L621.8 829.7L624.1 837.9L626.4 849.8L628.7 854.6L631.0 863.7L633.3 869.9L635.6 875.5L637.9 881.9L640.2 889.0L642.5 893.3L644.8 900.3L647.1 901.5L649.4 906.0L651.7 908.9L654.0 913.3L656.3 912.7L658.6 915.0L660.9 918.5L663.2 917.9L665.5 919.3L667.8 913.8L670.1 921.0L672.4 922.9L674.7 920.1L677.0 926.1L679.3 923.4L681.6 926.7L683.9 928.1L686.2 930.4L688.5 929.1L690.8 935.9L693.1 936.9L695.4 941.0L697.7 937.3L700.0 941.7L702.3 941.2L704.6 942.8L706.9 942.8L709.2 946.7L711.5 943.9L713.8 944.5L716.1 945.6L718.4 945.7L720.7 945.3L723.0 945.4L725.3 945.3L727.6 945.4L729.9 943.8L732.2 946.1L734.5 945.2L736.8 946.1L738.9 945.8"/>
<path stroke="#e0006f" d="M112.8 953.0L113.0 952.3L115.3 953.8L117.6 952.5L119.9 952.5L122.2 952.8L124.5 952.6L126.8 953.8L129.1 954.1L131.4 953.8L133.7 952.4L136.0 952.5L138.3 953.7L140.6 953.3L142.9 954.1L145.2 952.7L147.5 953.3L149.8 953.1L152.1 953.5L154.4 953.7L156.7 953.6L159.0 951.7L161.3 953.8L163.6 953.3L165.9 952.8L168.2 952.5L170.5 953.6L172.8 953.4L175.1 953.6L177.4 951.6L179.7 955.0L182.0 952.6L184.3 953.0L186.6 952.1L188.9 952.9L191.2 953.4L193.5 952.8L195.8 952.3L198.1 953.1L200.4 953.7L202.7 953.0L205.0 952.5L207.3 953.4L209.6 952.5L211.9 953.6L214.2 952.5L216.5 953.6L218.8 951.4L221.1 954.9L223.4 951.6L225.7 954.0L228.0 954.1L230.3 953.2L232.6 953.0L234.9 953.2L237.2 953.2L239.5 953.7L241.8 951.3L244.1 953.3L246.4 954.0L248.7 952.7L251.0 952.7L253.3 953.8L255.6 953.2L257.9 953.7L260.2 952.2L262.5 953.6L264.8 953.4L267.1 953.8L269.4 952.2L271.7 951.0L274.0 953.6L276.3 953.1L278.6 953.8L280.9 952.2L283.2 953.3L285.5 954.6L287.8 953.6L290.1 953.6L292.4 953.2L294.7 953.5L297.0 951.9L299.3 953.6L301.6 953.7L303.9 952.9L306.2 953.5L308.5 953.9L310.8 952.7L313.1 952.6L315.4 952.9L317.7 953.3L320.0 953.0L322.3 953.2L324.6 954.0L326.9 951.8L329.2 953.6L331.5 952.6L333.8 954.0L336.1 952.8L338.4 953.6L340.7 952.9L343.0 953.3L345.3 952.8L347.6 952.9L349.9 952.7L352.2 953.8L354.5 953.0L356.8 952.4L359.1 953.2L361.4 952.4L363.7 954.6L366.0 951.5L368.3 954.0L370.6 952.0L372.9 952.7L375.2 953.6L377.5 952.9L379.8 952.3L382.1 952.8L384.4 953.3L386.7 953.5L389.0 952.5L391.3 954.2L393.6 953.7L395.9 952.3L398.2 952.1L400.5 953.2L402.8 952.5L405.1 953.4L407.4 952.9L409.7 952.3L412.0 952.4L414.3 953.3L416.6 953.2L418.9 953.9L421.2 952.7L423.5 953.3L425.8 953.0L428.1 953.2L430.4 951.9L432.7 954.5L435.0 952.4L437.3 952.3L439.6 953.8L441.9 954.2L444.2 951.6L446.5 953.6L448.8 953.9L451.1 952.5L453.4 953.1L455.7 954.6L458.0 951.9L460.3 953.1L462.6 952.6L464.9 952.9L467.2 952.4L469.5 952.2L471.8 953.3L474.1 953.0L476.4 952.8L478.7 953.7L481.0 952.8L483.3 953.5L485.6 952.6L487.9 953.0L490.2 952.1L492.5 953.7L494.8 952.3L497.1 953.3L499.4 951.9L501.7 953.6L504.0 953.0L506.3 953.4L508.6 952.5L510.9 953.8L513.2 951.8L515.5 953.7L517.8 951.9L520.1 953.4L522.4 953.3L524.7 953.7L527.0 952.2L529.3 954.1L531.6 951.8L533.9 954.4L536.2 952.1L538.5 953.4L540.8 951.8L543.1 952.6L545.4 953.0L547.7 952.6L550.0 952.6L552.3 951.5L554.6 951.8L556.9 951.9L559.2 951.2L561.5 951.2L563.8 947.6L566.1 947.5L568.4 944.3L570.7 941.6L573.0 938.7L575.3 934.9L577.6 927.9L579.9 923.6L582.2 915.1L584.5 910.3L586.8 901.2L589.1 892.9L591.4 880.0L593.7 867.5L596.0 856.9L598.3 845.7L600.6 836.0L602.9 827.9L605.2 815.1L607.5 801.1L609.8 788.8L612.1 778.8L614.4 770.7L616.7 765.1L619.0 754.3L621.3 742.2L623.6 722.2L625.9 715.3L628.2 714.7L630.5 722.1L632.8 732.2L635.1 738.8L637.4 749.6L639.7 766.6L642.0 779.3L644.3 799.5L646.6 819.9L648.9 840.8L651.2 852.1L653.5 867.9L655.8 876.6L658.1 885.1L660.4 890.7L662.7 897.0L665.0 901.4L667.3 906.3L669.6 906.2L671.9 911.5L674.2 912.5L676.5 914.7L678.8 914.9L681.1 921.3L683.4 920.9L685.7 921.7L688.0 922.7L690.3 928.4L692.6 931.9L694.9 936.2L697.2 935.5L699.5 940.1L701.8 938.6L704.1 939.1L706.4 940.2L708.7 942.1L711.0 943.1L713.3 943.2L715.6 941.7L717.9 942.7L720.2 944.2L722.5 943.7L724.8 944.4L727.1 944.2L729.4 943.2L731.7 944.2L734.0 945.4L736.3 945.4L738.6 945.2L738.9 945.4"/>
</g>
<path fill="none" stroke="#000" stroke-width="2.4" d="M165.0 330.0v-5.8M165.0 10.7v5.8M217.1 330.0v-12.0M217.1 10.7v12.0M269.3 330.0v-5.8M269.3 10.7v5.8M321.5 330.0v-12.0M321.5 10.7v12.0M373.7 330.0v-5.8M373.7 10.7v5.8M425.9 330.0v-12.0M425.9 10.7v12.0M478.0 330.0v-5.8M478.0 10.7v5.8M530.2 330.0v-12.0M530.2 10.7v12.0M582.4 330.0v-5.8M582.4 10.7v5.8M634.5 330.0v-12.0M634.5 10.7v12.0M686.7 330.0v-5.8M686.7 10.7v5.8M112.8 242.8h12M738.9 242.8h-12M112.8 184.8h12M738.9 184.8h-12M112.8 126.7h12M738.9 126.7h-12M112.8 68.7h12M738.9 68.7h-12M112.8 271.8h5.8M738.9 271.8h-5.8M112.8 213.8h5.8M738.9 213.8h-5.8M112.8 155.8h5.8M738.9 155.8h-5.8M112.8 97.7h5.8M738.9 97.7h-5.8M112.8 39.7h5.8M738.9 39.7h-5.8M165.0 649.0v-5.8M165.0 330.0v5.8M217.1 649.0v-12.0M217.1 330.0v12.0M269.3 649.0v-5.8M269.3 330.0v5.8M321.5 649.0v-12.0M321.5 330.0v12.0M373.7 649.0v-5.8M373.7 330.0v5.8M425.9 649.0v-12.0M425.9 330.0v12.0M478.0 649.0v-5.8M478.0 330.0v5.8M530.2 649.0v-12.0M530.2 330.0v12.0M582.4 649.0v-5.8M582.4 330.0v5.8M634.5 649.0v-12.0M634.5 330.0v12.0M686.7 649.0v-5.8M686.7 330.0v5.8M112.8 557.7h12M738.9 557.7h-12M112.8 481.3h12M738.9 481.3h-12M112.8 404.9h12M738.9 404.9h-12M112.8 595.9h5.8M738.9 595.9h-5.8M112.8 519.5h5.8M738.9 519.5h-5.8M112.8 443.1h5.8M738.9 443.1h-5.8M112.8 366.7h5.8M738.9 366.7h-5.8M165.0 967.7v-5.8M165.0 649.0v5.8M217.1 967.7v-12.0M217.1 649.0v12.0M269.3 967.7v-5.8M269.3 649.0v5.8M321.5 967.7v-12.0M321.5 649.0v12.0M373.7 967.7v-5.8M373.7 649.0v5.8M425.9 967.7v-12.0M425.9 649.0v12.0M478.0 967.7v-5.8M478.0 649.0v5.8M530.2 967.7v-12.0M530.2 649.0v12.0M582.4 967.7v-5.8M582.4 649.0v5.8M634.5 967.7v-12.0M634.5 649.0v12.0M686.7 967.7v-5.8M686.7 649.0v5.8M112.8 876.8h12M738.9 876.8h-12M112.8 800.5h12M738.9 800.5h-12M112.8 724.2h12M738.9 724.2h-12M112.8 915.0h5.8M738.9 915.0h-5.8M112.8 838.6h5.8M738.9 838.6h-5.8M112.8 762.4h5.8M738.9 762.4h-5.8M112.8 686.0h5.8M738.9 686.0h-5.8"/>
<path fill="none" stroke="#000" stroke-width="2.5" d="M112.8 10.7H738.9V967.7H112.8ZM112.8 330H738.9M112.8 649H738.9"/>
<g fill="#000">
<text transform="translate(98.2 309.6) scale(1 1.045)" font-size="25.8" text-anchor="end">0.00</text>
<text transform="translate(98.2 251.6) scale(1 1.045)" font-size="25.8" text-anchor="end">0.02</text>
<text transform="translate(98.2 193.6) scale(1 1.045)" font-size="25.8" text-anchor="end">0.04</text>
<text transform="translate(98.2 135.5) scale(1 1.045)" font-size="25.8" text-anchor="end">0.06</text>
<text transform="translate(98.2 77.5) scale(1 1.045)" font-size="25.8" text-anchor="end">0.08</text>
<text transform="translate(98.2 19.5) scale(1 1.045)" font-size="25.8" text-anchor="end">0.10</text>
<text transform="translate(98.2 642.9) scale(1 1.045)" font-size="25.8" text-anchor="end">0.00</text>
<text transform="translate(98.2 566.5) scale(1 1.045)" font-size="25.8" text-anchor="end">0.05</text>
<text transform="translate(98.2 490.1) scale(1 1.045)" font-size="25.8" text-anchor="end">0.10</text>
<text transform="translate(98.2 413.7) scale(1 1.045)" font-size="25.8" text-anchor="end">0.15</text>
<text transform="translate(98.2 961.9) scale(1 1.045)" font-size="25.8" text-anchor="end">0.00</text>
<text transform="translate(98.2 885.6) scale(1 1.045)" font-size="25.8" text-anchor="end">0.05</text>
<text transform="translate(98.2 809.3) scale(1 1.045)" font-size="25.8" text-anchor="end">0.10</text>
<text transform="translate(98.2 733.0) scale(1 1.045)" font-size="25.8" text-anchor="end">0.15</text>
<text transform="translate(112.8 1002.8) scale(1 1.045)" font-size="25.8" text-anchor="middle">70</text>
<text transform="translate(217.1 1002.8) scale(1 1.045)" font-size="25.8" text-anchor="middle">75</text>
<text transform="translate(321.5 1002.8) scale(1 1.045)" font-size="25.8" text-anchor="middle">80</text>
<text transform="translate(425.9 1002.8) scale(1 1.045)" font-size="25.8" text-anchor="middle">85</text>
<text transform="translate(530.2 1002.8) scale(1 1.045)" font-size="25.8" text-anchor="middle">90</text>
<text transform="translate(634.5 1002.8) scale(1 1.045)" font-size="25.8" text-anchor="middle">95</text>
<text transform="translate(738.9 1002.8) scale(1 1.045)" font-size="25.8" text-anchor="middle">100</text>
<text transform="translate(402.3 1044.4) scale(1 1.045)" font-size="25.8" text-anchor="middle">T (K)</text>
<text transform="translate(24.3 135.1) rotate(-90) scale(1.012 1.050)" font-size="26.4" text-anchor="middle">d&#961;(T) / dT (&#937;cmT<tspan font-size="14.5" dy="-12.5" dx="1.5">-1</tspan><tspan dy="12.5" dx="1.5">)</tspan></text>
<text transform="translate(24.3 485.7) rotate(-90) scale(1.012 1.050)" font-size="26.4" text-anchor="middle">d&#961;(T) / dT (&#937;cmT<tspan font-size="14.5" dy="-12.5" dx="1.5">-1</tspan><tspan dy="12.5" dx="1.5">)</tspan></text>
<text transform="translate(24.3 797.1) rotate(-90) scale(1.012 1.050)" font-size="26.4" text-anchor="middle">d&#961;(T) / dT (&#937;cmT<tspan font-size="14.5" dy="-12.5" dx="1.5">-1</tspan><tspan dy="12.5" dx="1.5">)</tspan></text>
<text transform="translate(445.2 85.6) scale(1 1.045)" font-size="25.8">Pristine</text>
<text transform="translate(671.2 61.0) scale(1 1.045)" font-size="26.3">(a)</text>
<text transform="translate(673.6 397.6) scale(1 1.045)" font-size="26.3">(b)</text>
<text transform="translate(672.2 718.6) scale(1 1.045)" font-size="26.3">(c)</text>
<text transform="translate(462.9 424.3) scale(1 1.045)" font-size="26.0">10</text>
<text transform="translate(494.2 413.6) scale(1 1.045)" font-size="16.5">15</text>
<text transform="translate(518.2 424.3) scale(1 1.045)" font-size="26.0">cm</text>
<text transform="translate(554.0 413.6) scale(1 1.045)" font-size="16.5">-2</text>
<text transform="translate(455.5 721.1) scale(1 1.045)" font-size="26.0">10</text>
<text transform="translate(487.7 710.6) scale(1 1.045)" font-size="16.5">16</text>
<text transform="translate(520.8 721.1) scale(1 1.045)" font-size="26.0">cm</text>
<text transform="translate(556.7 710.6) scale(1 1.045)" font-size="16.5">-2</text>
</g>
<g fill="#000">
<path stroke="#d20000" stroke-width="2.5" d="M135.3 38.9H179.5"/>
<text transform="translate(184.0 45.7) scale(1 1.045)" font-size="18.7">13 T</text>
<path stroke="#28e128" stroke-width="2.5" d="M135.3 62.4H179.5"/>
<text transform="translate(184.0 69.2) scale(1 1.045)" font-size="18.7">11 T</text>
<path stroke="#0000a0" stroke-width="2.5" d="M135.3 85.9H179.5"/>
<text transform="translate(184.0 92.7) scale(1 1.045)" font-size="18.7">9 T</text>
<path stroke="#10f0f0" stroke-width="2.5" d="M135.3 109.3H179.5"/>
<text transform="translate(184.0 116.1) scale(1 1.045)" font-size="18.7">7 T</text>
<path stroke="#e60aeb" stroke-width="2.5" d="M135.3 132.8H179.5"/>
<text transform="translate(184.0 139.6) scale(1 1.045)" font-size="18.7">5 T</text>
<path stroke="#7f00f0" stroke-width="2.5" d="M135.3 156.3H179.5"/>
<text transform="translate(184.0 163.1) scale(1 1.045)" font-size="18.7">3 T</text>
<path stroke="#80820f" stroke-width="2.5" d="M135.3 179.8H179.5"/>
<text transform="translate(184.0 186.6) scale(1 1.045)" font-size="18.7">2 T</text>
<path stroke="#00006e" stroke-width="2.5" d="M135.3 203.3H179.5"/>
<text transform="translate(184.0 210.1) scale(1 1.045)" font-size="18.7">1 T</text>
<path stroke="#e0006f" stroke-width="2.5" d="M135.3 226.7H179.5"/>
<text transform="translate(184.0 233.5) scale(1 1.045)" font-size="18.7">0.5 T</text>
</g>
</svg>
</body></html>
